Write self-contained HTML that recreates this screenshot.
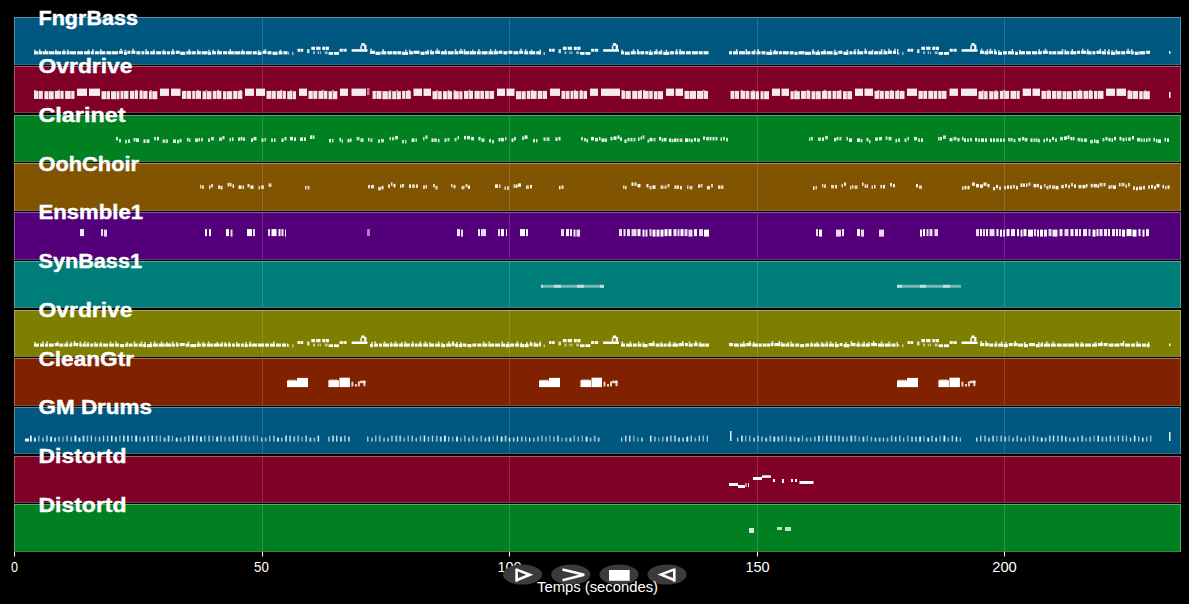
<!DOCTYPE html>
<html><head><meta charset="utf-8"><style>
html,body{margin:0;padding:0;background:#000;width:1189px;height:604px;overflow:hidden;}
svg{display:block;}
</style></head><body><svg width="1189" height="604" viewBox="0 0 1189 604"><rect x="0" y="0" width="1189" height="604" fill="#000"/><rect x="14" y="17" width="1167" height="48" fill="#005880"/><rect x="14" y="17" width="1167" height="1" fill="#5791ab"/><rect x="14" y="64" width="1167" height="1" fill="#3a6a80"/><rect x="14" y="17" width="1" height="48" fill="#5791ab"/><rect x="1180" y="17" width="1" height="48" fill="#5791ab"/><rect x="262" y="18" width="1" height="46" fill="#fff" fill-opacity="0.16"/><rect x="509" y="18" width="1" height="46" fill="#fff" fill-opacity="0.16"/><rect x="757" y="18" width="1" height="46" fill="#fff" fill-opacity="0.16"/><rect x="1004" y="18" width="1" height="46" fill="#fff" fill-opacity="0.16"/><rect x="14" y="66" width="1167" height="47" fill="#800028"/><rect x="14" y="66" width="1167" height="1" fill="#ab5771"/><rect x="14" y="112" width="1167" height="1" fill="#803a50"/><rect x="14" y="66" width="1" height="47" fill="#ab5771"/><rect x="1180" y="66" width="1" height="47" fill="#ab5771"/><rect x="262" y="67" width="1" height="45" fill="#fff" fill-opacity="0.16"/><rect x="509" y="67" width="1" height="45" fill="#fff" fill-opacity="0.16"/><rect x="757" y="67" width="1" height="45" fill="#fff" fill-opacity="0.16"/><rect x="1004" y="67" width="1" height="45" fill="#fff" fill-opacity="0.16"/><rect x="14" y="115" width="1167" height="47" fill="#008020"/><rect x="14" y="115" width="1167" height="1" fill="#57ab6c"/><rect x="14" y="161" width="1167" height="1" fill="#3a804b"/><rect x="14" y="115" width="1" height="47" fill="#57ab6c"/><rect x="1180" y="115" width="1" height="47" fill="#57ab6c"/><rect x="262" y="116" width="1" height="45" fill="#fff" fill-opacity="0.16"/><rect x="509" y="116" width="1" height="45" fill="#fff" fill-opacity="0.16"/><rect x="757" y="116" width="1" height="45" fill="#fff" fill-opacity="0.16"/><rect x="1004" y="116" width="1" height="45" fill="#fff" fill-opacity="0.16"/><rect x="14" y="163" width="1167" height="48" fill="#805400"/><rect x="14" y="163" width="1167" height="1" fill="#ab8e57"/><rect x="14" y="210" width="1167" height="1" fill="#80683a"/><rect x="14" y="163" width="1" height="48" fill="#ab8e57"/><rect x="1180" y="163" width="1" height="48" fill="#ab8e57"/><rect x="262" y="164" width="1" height="46" fill="#fff" fill-opacity="0.16"/><rect x="509" y="164" width="1" height="46" fill="#fff" fill-opacity="0.16"/><rect x="757" y="164" width="1" height="46" fill="#fff" fill-opacity="0.16"/><rect x="1004" y="164" width="1" height="46" fill="#fff" fill-opacity="0.16"/><rect x="14" y="212" width="1167" height="48" fill="#54007a"/><rect x="14" y="212" width="1167" height="1" fill="#8e57a7"/><rect x="14" y="259" width="1167" height="1" fill="#683a7d"/><rect x="14" y="212" width="1" height="48" fill="#8e57a7"/><rect x="1180" y="212" width="1" height="48" fill="#8e57a7"/><rect x="262" y="213" width="1" height="46" fill="#fff" fill-opacity="0.16"/><rect x="509" y="213" width="1" height="46" fill="#fff" fill-opacity="0.16"/><rect x="757" y="213" width="1" height="46" fill="#fff" fill-opacity="0.16"/><rect x="1004" y="213" width="1" height="46" fill="#fff" fill-opacity="0.16"/><rect x="14" y="261" width="1167" height="47" fill="#007e7a"/><rect x="14" y="261" width="1167" height="1" fill="#57aaa7"/><rect x="14" y="307" width="1167" height="1" fill="#3a7f7d"/><rect x="14" y="261" width="1" height="47" fill="#57aaa7"/><rect x="1180" y="261" width="1" height="47" fill="#57aaa7"/><rect x="262" y="262" width="1" height="45" fill="#fff" fill-opacity="0.16"/><rect x="509" y="262" width="1" height="45" fill="#fff" fill-opacity="0.16"/><rect x="757" y="262" width="1" height="45" fill="#fff" fill-opacity="0.16"/><rect x="1004" y="262" width="1" height="45" fill="#fff" fill-opacity="0.16"/><rect x="14" y="310" width="1167" height="47" fill="#7e7e00"/><rect x="14" y="310" width="1167" height="1" fill="#aaaa57"/><rect x="14" y="356" width="1167" height="1" fill="#7f7f3a"/><rect x="14" y="310" width="1" height="47" fill="#aaaa57"/><rect x="1180" y="310" width="1" height="47" fill="#aaaa57"/><rect x="262" y="311" width="1" height="45" fill="#fff" fill-opacity="0.16"/><rect x="509" y="311" width="1" height="45" fill="#fff" fill-opacity="0.16"/><rect x="757" y="311" width="1" height="45" fill="#fff" fill-opacity="0.16"/><rect x="1004" y="311" width="1" height="45" fill="#fff" fill-opacity="0.16"/><rect x="14" y="358" width="1167" height="48" fill="#802200"/><rect x="14" y="358" width="1167" height="1" fill="#ab6d57"/><rect x="14" y="405" width="1167" height="1" fill="#804c3a"/><rect x="14" y="358" width="1" height="48" fill="#ab6d57"/><rect x="1180" y="358" width="1" height="48" fill="#ab6d57"/><rect x="262" y="359" width="1" height="46" fill="#fff" fill-opacity="0.16"/><rect x="509" y="359" width="1" height="46" fill="#fff" fill-opacity="0.16"/><rect x="757" y="359" width="1" height="46" fill="#fff" fill-opacity="0.16"/><rect x="1004" y="359" width="1" height="46" fill="#fff" fill-opacity="0.16"/><rect x="14" y="407" width="1167" height="47" fill="#005880"/><rect x="14" y="407" width="1167" height="1" fill="#5791ab"/><rect x="14" y="453" width="1167" height="1" fill="#3a6a80"/><rect x="14" y="407" width="1" height="47" fill="#5791ab"/><rect x="1180" y="407" width="1" height="47" fill="#5791ab"/><rect x="262" y="408" width="1" height="45" fill="#fff" fill-opacity="0.16"/><rect x="509" y="408" width="1" height="45" fill="#fff" fill-opacity="0.16"/><rect x="757" y="408" width="1" height="45" fill="#fff" fill-opacity="0.16"/><rect x="1004" y="408" width="1" height="45" fill="#fff" fill-opacity="0.16"/><rect x="14" y="456" width="1167" height="47" fill="#800028"/><rect x="14" y="456" width="1167" height="1" fill="#ab5771"/><rect x="14" y="502" width="1167" height="1" fill="#803a50"/><rect x="14" y="456" width="1" height="47" fill="#ab5771"/><rect x="1180" y="456" width="1" height="47" fill="#ab5771"/><rect x="262" y="457" width="1" height="45" fill="#fff" fill-opacity="0.16"/><rect x="509" y="457" width="1" height="45" fill="#fff" fill-opacity="0.16"/><rect x="757" y="457" width="1" height="45" fill="#fff" fill-opacity="0.16"/><rect x="1004" y="457" width="1" height="45" fill="#fff" fill-opacity="0.16"/><rect x="14" y="504" width="1167" height="48" fill="#008020"/><rect x="14" y="504" width="1167" height="1" fill="#57ab6c"/><rect x="14" y="551" width="1167" height="1" fill="#3a804b"/><rect x="14" y="504" width="1" height="48" fill="#57ab6c"/><rect x="1180" y="504" width="1" height="48" fill="#57ab6c"/><rect x="262" y="505" width="1" height="46" fill="#fff" fill-opacity="0.16"/><rect x="509" y="505" width="1" height="46" fill="#fff" fill-opacity="0.16"/><rect x="757" y="505" width="1" height="46" fill="#fff" fill-opacity="0.16"/><rect x="1004" y="505" width="1" height="46" fill="#fff" fill-opacity="0.16"/><g fill="#fff"><rect x="34.0" y="51.2" width="4.0" height="3.2" fill-opacity="0.95"/><rect x="34.2" y="49.7" width="1.5" height="1.5" fill-opacity="0.85"/><rect x="38.5" y="51.2" width="4.0" height="3.2" fill-opacity="0.95"/><rect x="39.0" y="49.2" width="1.5" height="2.0" fill-opacity="0.85"/><rect x="43.0" y="51.2" width="5.0" height="3.2" fill-opacity="0.95"/><rect x="44.9" y="49.7" width="1.5" height="1.5" fill-opacity="0.85"/><rect x="48.5" y="51.2" width="6.0" height="3.2" fill-opacity="0.95"/><rect x="55.0" y="51.2" width="6.0" height="3.2" fill-opacity="0.95"/><rect x="55.2" y="49.7" width="1.5" height="1.5" fill-opacity="0.85"/><rect x="61.8" y="51.2" width="4.0" height="3.2" fill-opacity="0.95"/><rect x="63.2" y="49.7" width="1.5" height="1.5" fill-opacity="0.85"/><rect x="66.6" y="51.2" width="3.0" height="3.2" fill-opacity="0.95"/><rect x="67.2" y="49.7" width="1.5" height="1.5" fill-opacity="0.85"/><rect x="70.1" y="51.2" width="6.0" height="3.2" fill-opacity="0.95"/><rect x="77.1" y="51.2" width="6.0" height="3.2" fill-opacity="0.95"/><rect x="84.1" y="51.2" width="6.0" height="3.2" fill-opacity="0.95"/><rect x="87.7" y="49.7" width="1.5" height="1.5" fill-opacity="0.85"/><rect x="90.9" y="51.2" width="3.0" height="3.2" fill-opacity="0.95"/><rect x="92.2" y="49.2" width="1.5" height="2.0" fill-opacity="0.85"/><rect x="94.9" y="51.2" width="4.0" height="3.2" fill-opacity="0.95"/><rect x="99.4" y="51.2" width="6.0" height="3.2" fill-opacity="0.95"/><rect x="100.1" y="49.2" width="1.5" height="2.0" fill-opacity="0.85"/><rect x="106.4" y="51.2" width="5.0" height="3.2" fill-opacity="0.95"/><rect x="111.9" y="51.2" width="6.0" height="3.2" fill-opacity="0.95"/><rect x="118.9" y="50.7" width="4.0" height="3.2" fill-opacity="0.95"/><rect x="120.3" y="48.7" width="1.5" height="2.0" fill-opacity="0.85"/><rect x="123.9" y="51.7" width="3.0" height="3.2" fill-opacity="0.95"/><rect x="124.6" y="49.7" width="1.5" height="2.0" fill-opacity="0.85"/><rect x="127.4" y="50.7" width="3.0" height="3.2" fill-opacity="0.95"/><rect x="131.4" y="50.7" width="4.0" height="3.2" fill-opacity="0.95"/><rect x="132.3" y="48.7" width="1.5" height="2.0" fill-opacity="0.85"/><rect x="136.4" y="51.2" width="4.0" height="3.2" fill-opacity="0.95"/><rect x="141.4" y="51.2" width="3.0" height="3.2" fill-opacity="0.95"/><rect x="145.2" y="51.2" width="4.0" height="3.2" fill-opacity="0.95"/><rect x="145.4" y="49.2" width="1.5" height="2.0" fill-opacity="0.85"/><rect x="150.2" y="51.2" width="5.0" height="3.2" fill-opacity="0.95"/><rect x="153.1" y="49.7" width="1.5" height="1.5" fill-opacity="0.85"/><rect x="156.2" y="51.2" width="5.0" height="3.2" fill-opacity="0.95"/><rect x="162.2" y="51.2" width="4.0" height="3.2" fill-opacity="0.95"/><rect x="162.8" y="49.7" width="1.5" height="1.5" fill-opacity="0.85"/><rect x="167.0" y="51.2" width="3.0" height="3.2" fill-opacity="0.95"/><rect x="170.8" y="51.2" width="4.0" height="3.2" fill-opacity="0.95"/><rect x="172.1" y="49.2" width="1.5" height="2.0" fill-opacity="0.85"/><rect x="175.8" y="50.7" width="4.0" height="3.2" fill-opacity="0.95"/><rect x="180.3" y="51.7" width="5.0" height="3.2" fill-opacity="0.95"/><rect x="186.3" y="51.2" width="5.0" height="3.2" fill-opacity="0.95"/><rect x="188.5" y="49.2" width="1.5" height="2.0" fill-opacity="0.85"/><rect x="191.8" y="51.2" width="4.0" height="3.2" fill-opacity="0.95"/><rect x="196.8" y="51.2" width="4.0" height="3.2" fill-opacity="0.95"/><rect x="197.1" y="49.7" width="1.5" height="1.5" fill-opacity="0.85"/><rect x="201.6" y="51.2" width="6.0" height="3.2" fill-opacity="0.95"/><rect x="208.1" y="51.7" width="3.0" height="3.2" fill-opacity="0.95"/><rect x="208.3" y="49.7" width="1.5" height="2.0" fill-opacity="0.85"/><rect x="212.1" y="51.2" width="4.0" height="3.2" fill-opacity="0.95"/><rect x="212.4" y="49.7" width="1.5" height="1.5" fill-opacity="0.85"/><rect x="217.1" y="51.2" width="5.0" height="3.2" fill-opacity="0.95"/><rect x="217.6" y="49.7" width="1.5" height="1.5" fill-opacity="0.85"/><rect x="223.1" y="51.2" width="4.0" height="3.2" fill-opacity="0.95"/><rect x="227.9" y="51.2" width="6.0" height="3.2" fill-opacity="0.95"/><rect x="229.5" y="49.2" width="1.5" height="2.0" fill-opacity="0.85"/><rect x="234.4" y="51.2" width="6.0" height="3.2" fill-opacity="0.95"/><rect x="240.9" y="51.2" width="4.0" height="3.2" fill-opacity="0.95"/><rect x="241.8" y="49.7" width="1.5" height="1.5" fill-opacity="0.85"/><rect x="245.7" y="51.2" width="6.0" height="3.2" fill-opacity="0.95"/><rect x="252.7" y="51.2" width="4.0" height="3.2" fill-opacity="0.95"/><rect x="257.5" y="51.7" width="4.0" height="3.2" fill-opacity="0.95"/><rect x="258.0" y="50.2" width="1.5" height="1.5" fill-opacity="0.85"/><rect x="262.5" y="50.7" width="4.0" height="3.2" fill-opacity="0.95"/><rect x="264.5" y="49.2" width="1.5" height="1.5" fill-opacity="0.85"/><rect x="267.5" y="51.2" width="4.0" height="3.2" fill-opacity="0.95"/><rect x="272.5" y="51.7" width="5.0" height="3.2" fill-opacity="0.95"/><rect x="278.5" y="51.2" width="4.0" height="3.2" fill-opacity="0.95"/><rect x="279.7" y="49.7" width="1.5" height="1.5" fill-opacity="0.85"/><rect x="283.5" y="51.2" width="4.0" height="3.2" fill-opacity="0.95"/><rect x="370.0" y="50.7" width="5.0" height="3.2" fill-opacity="0.95"/><rect x="370.3" y="48.7" width="1.5" height="2.0" fill-opacity="0.85"/><rect x="375.5" y="51.7" width="5.0" height="3.2" fill-opacity="0.95"/><rect x="381.3" y="51.2" width="5.0" height="3.2" fill-opacity="0.95"/><rect x="382.5" y="49.2" width="1.5" height="2.0" fill-opacity="0.85"/><rect x="387.3" y="51.2" width="5.0" height="3.2" fill-opacity="0.95"/><rect x="392.8" y="51.2" width="4.0" height="3.2" fill-opacity="0.95"/><rect x="397.3" y="51.2" width="4.0" height="3.2" fill-opacity="0.95"/><rect x="402.1" y="51.7" width="6.0" height="3.2" fill-opacity="0.95"/><rect x="405.1" y="49.7" width="1.5" height="2.0" fill-opacity="0.85"/><rect x="409.1" y="51.2" width="4.0" height="3.2" fill-opacity="0.95"/><rect x="409.1" y="49.7" width="1.5" height="1.5" fill-opacity="0.85"/><rect x="413.6" y="50.7" width="6.0" height="3.2" fill-opacity="0.95"/><rect x="420.6" y="51.7" width="4.0" height="3.2" fill-opacity="0.95"/><rect x="425.1" y="51.2" width="4.0" height="3.2" fill-opacity="0.95"/><rect x="427.0" y="49.7" width="1.5" height="1.5" fill-opacity="0.85"/><rect x="430.1" y="51.2" width="4.0" height="3.2" fill-opacity="0.95"/><rect x="430.3" y="49.7" width="1.5" height="1.5" fill-opacity="0.85"/><rect x="435.1" y="50.7" width="5.0" height="3.2" fill-opacity="0.95"/><rect x="436.6" y="48.7" width="1.5" height="2.0" fill-opacity="0.85"/><rect x="440.9" y="51.2" width="6.0" height="3.2" fill-opacity="0.95"/><rect x="444.8" y="49.7" width="1.5" height="1.5" fill-opacity="0.85"/><rect x="447.7" y="51.2" width="6.0" height="3.2" fill-opacity="0.95"/><rect x="454.5" y="51.2" width="4.0" height="3.2" fill-opacity="0.95"/><rect x="454.8" y="49.2" width="1.5" height="2.0" fill-opacity="0.85"/><rect x="459.0" y="50.7" width="4.0" height="3.2" fill-opacity="0.95"/><rect x="460.2" y="48.7" width="1.5" height="2.0" fill-opacity="0.85"/><rect x="463.5" y="51.2" width="6.0" height="3.2" fill-opacity="0.95"/><rect x="463.7" y="49.2" width="1.5" height="2.0" fill-opacity="0.85"/><rect x="470.0" y="51.2" width="6.0" height="3.2" fill-opacity="0.95"/><rect x="472.0" y="49.7" width="1.5" height="1.5" fill-opacity="0.85"/><rect x="476.8" y="51.2" width="4.0" height="3.2" fill-opacity="0.95"/><rect x="478.1" y="49.2" width="1.5" height="2.0" fill-opacity="0.85"/><rect x="481.6" y="51.2" width="6.0" height="3.2" fill-opacity="0.95"/><rect x="488.4" y="51.2" width="5.0" height="3.2" fill-opacity="0.95"/><rect x="489.9" y="49.2" width="1.5" height="2.0" fill-opacity="0.85"/><rect x="493.9" y="51.2" width="4.0" height="3.2" fill-opacity="0.95"/><rect x="494.7" y="49.2" width="1.5" height="2.0" fill-opacity="0.85"/><rect x="498.4" y="50.7" width="4.0" height="3.2" fill-opacity="0.95"/><rect x="503.4" y="51.2" width="4.0" height="3.2" fill-opacity="0.95"/><rect x="508.4" y="50.7" width="4.0" height="3.2" fill-opacity="0.95"/><rect x="513.4" y="51.2" width="5.0" height="3.2" fill-opacity="0.95"/><rect x="519.2" y="50.7" width="4.0" height="3.2" fill-opacity="0.95"/><rect x="520.2" y="48.7" width="1.5" height="2.0" fill-opacity="0.85"/><rect x="524.2" y="51.2" width="4.0" height="3.2" fill-opacity="0.95"/><rect x="525.1" y="49.2" width="1.5" height="2.0" fill-opacity="0.85"/><rect x="529.2" y="51.2" width="6.0" height="3.2" fill-opacity="0.95"/><rect x="530.9" y="49.7" width="1.5" height="1.5" fill-opacity="0.85"/><rect x="536.2" y="51.2" width="4.8" height="3.2" fill-opacity="0.95"/><rect x="539.4" y="49.7" width="1.5" height="1.5" fill-opacity="0.85"/><rect x="621.0" y="51.2" width="3.0" height="3.2" fill-opacity="0.95"/><rect x="621.4" y="49.7" width="1.5" height="1.5" fill-opacity="0.85"/><rect x="624.8" y="51.7" width="5.0" height="3.2" fill-opacity="0.95"/><rect x="630.8" y="51.2" width="5.0" height="3.2" fill-opacity="0.95"/><rect x="632.8" y="49.2" width="1.5" height="2.0" fill-opacity="0.85"/><rect x="636.8" y="51.2" width="3.0" height="3.2" fill-opacity="0.95"/><rect x="637.1" y="49.2" width="1.5" height="2.0" fill-opacity="0.85"/><rect x="640.3" y="51.2" width="4.0" height="3.2" fill-opacity="0.95"/><rect x="645.3" y="51.2" width="3.0" height="3.2" fill-opacity="0.95"/><rect x="648.8" y="51.7" width="4.0" height="3.2" fill-opacity="0.95"/><rect x="649.6" y="50.2" width="1.5" height="1.5" fill-opacity="0.85"/><rect x="653.8" y="51.2" width="4.0" height="3.2" fill-opacity="0.95"/><rect x="655.6" y="49.2" width="1.5" height="2.0" fill-opacity="0.85"/><rect x="658.3" y="51.2" width="4.0" height="3.2" fill-opacity="0.95"/><rect x="660.6" y="49.7" width="1.5" height="1.5" fill-opacity="0.85"/><rect x="663.3" y="51.7" width="6.0" height="3.2" fill-opacity="0.95"/><rect x="665.6" y="49.7" width="1.5" height="2.0" fill-opacity="0.85"/><rect x="670.1" y="51.2" width="4.0" height="3.2" fill-opacity="0.95"/><rect x="675.1" y="51.2" width="3.0" height="3.2" fill-opacity="0.95"/><rect x="675.9" y="49.2" width="1.5" height="2.0" fill-opacity="0.85"/><rect x="678.9" y="51.2" width="6.0" height="3.2" fill-opacity="0.95"/><rect x="679.4" y="49.2" width="1.5" height="2.0" fill-opacity="0.85"/><rect x="685.9" y="51.2" width="5.0" height="3.2" fill-opacity="0.95"/><rect x="691.9" y="51.2" width="6.0" height="3.2" fill-opacity="0.95"/><rect x="698.7" y="51.2" width="4.0" height="3.2" fill-opacity="0.95"/><rect x="703.5" y="51.2" width="5.0" height="3.2" fill-opacity="0.95"/><rect x="729.0" y="51.2" width="3.0" height="3.2" fill-opacity="0.95"/><rect x="733.0" y="51.2" width="5.0" height="3.2" fill-opacity="0.95"/><rect x="735.9" y="49.2" width="1.5" height="2.0" fill-opacity="0.85"/><rect x="739.0" y="51.2" width="6.0" height="3.2" fill-opacity="0.95"/><rect x="745.5" y="51.2" width="5.0" height="3.2" fill-opacity="0.95"/><rect x="745.5" y="49.2" width="1.5" height="2.0" fill-opacity="0.85"/><rect x="751.5" y="51.2" width="4.0" height="3.2" fill-opacity="0.95"/><rect x="753.9" y="49.7" width="1.5" height="1.5" fill-opacity="0.85"/><rect x="756.5" y="51.2" width="4.0" height="3.2" fill-opacity="0.95"/><rect x="757.5" y="49.2" width="1.5" height="2.0" fill-opacity="0.85"/><rect x="761.5" y="51.2" width="4.0" height="3.2" fill-opacity="0.95"/><rect x="766.3" y="51.7" width="6.0" height="3.2" fill-opacity="0.95"/><rect x="770.0" y="49.7" width="1.5" height="2.0" fill-opacity="0.85"/><rect x="773.1" y="51.2" width="5.0" height="3.2" fill-opacity="0.95"/><rect x="774.1" y="49.7" width="1.5" height="1.5" fill-opacity="0.85"/><rect x="778.9" y="51.2" width="3.0" height="3.2" fill-opacity="0.95"/><rect x="782.7" y="51.2" width="6.0" height="3.2" fill-opacity="0.95"/><rect x="789.7" y="51.2" width="4.0" height="3.2" fill-opacity="0.95"/><rect x="794.5" y="51.7" width="3.0" height="3.2" fill-opacity="0.95"/><rect x="798.5" y="51.2" width="6.0" height="3.2" fill-opacity="0.95"/><rect x="805.0" y="51.7" width="6.0" height="3.2" fill-opacity="0.95"/><rect x="811.8" y="51.2" width="3.0" height="3.2" fill-opacity="0.95"/><rect x="812.3" y="49.2" width="1.5" height="2.0" fill-opacity="0.85"/><rect x="815.3" y="51.7" width="5.0" height="3.2" fill-opacity="0.95"/><rect x="817.5" y="50.2" width="1.5" height="1.5" fill-opacity="0.85"/><rect x="821.1" y="51.2" width="5.0" height="3.2" fill-opacity="0.95"/><rect x="823.7" y="49.7" width="1.5" height="1.5" fill-opacity="0.85"/><rect x="826.6" y="51.2" width="6.0" height="3.2" fill-opacity="0.95"/><rect x="833.6" y="51.7" width="4.0" height="3.2" fill-opacity="0.95"/><rect x="834.2" y="49.7" width="1.5" height="2.0" fill-opacity="0.85"/><rect x="838.4" y="50.7" width="4.0" height="3.2" fill-opacity="0.95"/><rect x="843.4" y="51.7" width="5.0" height="3.2" fill-opacity="0.95"/><rect x="846.6" y="49.7" width="1.5" height="2.0" fill-opacity="0.85"/><rect x="849.4" y="51.2" width="3.0" height="3.2" fill-opacity="0.95"/><rect x="853.2" y="51.2" width="3.0" height="3.2" fill-opacity="0.95"/><rect x="854.2" y="49.2" width="1.5" height="2.0" fill-opacity="0.85"/><rect x="857.2" y="51.2" width="6.0" height="3.2" fill-opacity="0.95"/><rect x="857.5" y="49.2" width="1.5" height="2.0" fill-opacity="0.85"/><rect x="864.2" y="50.7" width="3.0" height="3.2" fill-opacity="0.95"/><rect x="864.6" y="48.7" width="1.5" height="2.0" fill-opacity="0.85"/><rect x="868.2" y="51.2" width="5.0" height="3.2" fill-opacity="0.95"/><rect x="871.7" y="49.7" width="1.5" height="1.5" fill-opacity="0.85"/><rect x="874.0" y="51.2" width="4.0" height="3.2" fill-opacity="0.95"/><rect x="878.5" y="51.2" width="4.0" height="3.2" fill-opacity="0.95"/><rect x="880.9" y="49.2" width="1.5" height="2.0" fill-opacity="0.85"/><rect x="883.5" y="51.2" width="4.0" height="3.2" fill-opacity="0.95"/><rect x="883.7" y="49.7" width="1.5" height="1.5" fill-opacity="0.85"/><rect x="888.0" y="50.7" width="4.0" height="3.2" fill-opacity="0.95"/><rect x="888.3" y="48.7" width="1.5" height="2.0" fill-opacity="0.85"/><rect x="893.0" y="50.7" width="3.0" height="3.2" fill-opacity="0.95"/><rect x="894.3" y="48.7" width="1.5" height="2.0" fill-opacity="0.85"/><rect x="897.0" y="51.2" width="1.0" height="3.2" fill-opacity="0.95"/><rect x="897.0" y="49.2" width="1.5" height="2.0" fill-opacity="0.85"/><rect x="980.0" y="50.7" width="4.0" height="3.2" fill-opacity="0.95"/><rect x="980.9" y="48.7" width="1.5" height="2.0" fill-opacity="0.85"/><rect x="984.5" y="51.2" width="4.0" height="3.2" fill-opacity="0.95"/><rect x="986.6" y="49.2" width="1.5" height="2.0" fill-opacity="0.85"/><rect x="989.0" y="50.7" width="4.0" height="3.2" fill-opacity="0.95"/><rect x="989.7" y="48.7" width="1.5" height="2.0" fill-opacity="0.85"/><rect x="994.0" y="51.2" width="3.0" height="3.2" fill-opacity="0.95"/><rect x="994.1" y="49.2" width="1.5" height="2.0" fill-opacity="0.85"/><rect x="998.0" y="51.7" width="4.0" height="3.2" fill-opacity="0.95"/><rect x="998.1" y="50.2" width="1.5" height="1.5" fill-opacity="0.85"/><rect x="1003.0" y="51.2" width="4.0" height="3.2" fill-opacity="0.95"/><rect x="1008.0" y="51.2" width="6.0" height="3.2" fill-opacity="0.95"/><rect x="1011.5" y="49.2" width="1.5" height="2.0" fill-opacity="0.85"/><rect x="1015.0" y="51.7" width="3.0" height="3.2" fill-opacity="0.95"/><rect x="1019.0" y="51.2" width="6.0" height="3.2" fill-opacity="0.95"/><rect x="1019.2" y="49.7" width="1.5" height="1.5" fill-opacity="0.85"/><rect x="1026.0" y="51.2" width="5.0" height="3.2" fill-opacity="0.95"/><rect x="1032.0" y="51.2" width="5.0" height="3.2" fill-opacity="0.95"/><rect x="1037.8" y="51.2" width="4.0" height="3.2" fill-opacity="0.95"/><rect x="1038.5" y="49.2" width="1.5" height="2.0" fill-opacity="0.85"/><rect x="1042.8" y="50.7" width="5.0" height="3.2" fill-opacity="0.95"/><rect x="1044.8" y="48.7" width="1.5" height="2.0" fill-opacity="0.85"/><rect x="1048.8" y="51.2" width="3.0" height="3.2" fill-opacity="0.95"/><rect x="1052.3" y="51.2" width="4.0" height="3.2" fill-opacity="0.95"/><rect x="1057.3" y="51.2" width="6.0" height="3.2" fill-opacity="0.95"/><rect x="1061.8" y="49.2" width="1.5" height="2.0" fill-opacity="0.85"/><rect x="1064.3" y="51.2" width="5.0" height="3.2" fill-opacity="0.95"/><rect x="1064.6" y="49.7" width="1.5" height="1.5" fill-opacity="0.85"/><rect x="1070.3" y="51.2" width="6.0" height="3.2" fill-opacity="0.95"/><rect x="1071.5" y="49.2" width="1.5" height="2.0" fill-opacity="0.85"/><rect x="1077.1" y="50.7" width="3.0" height="3.2" fill-opacity="0.95"/><rect x="1081.1" y="50.7" width="5.0" height="3.2" fill-opacity="0.95"/><rect x="1082.0" y="48.7" width="1.5" height="2.0" fill-opacity="0.85"/><rect x="1086.6" y="51.2" width="5.0" height="3.2" fill-opacity="0.95"/><rect x="1087.0" y="49.2" width="1.5" height="2.0" fill-opacity="0.85"/><rect x="1092.4" y="51.2" width="3.0" height="3.2" fill-opacity="0.95"/><rect x="1096.4" y="50.7" width="5.0" height="3.2" fill-opacity="0.95"/><rect x="1099.4" y="48.7" width="1.5" height="2.0" fill-opacity="0.85"/><rect x="1101.9" y="51.2" width="4.0" height="3.2" fill-opacity="0.95"/><rect x="1104.3" y="49.2" width="1.5" height="2.0" fill-opacity="0.85"/><rect x="1106.9" y="51.2" width="3.0" height="3.2" fill-opacity="0.95"/><rect x="1108.2" y="49.2" width="1.5" height="2.0" fill-opacity="0.85"/><rect x="1110.9" y="51.7" width="4.0" height="3.2" fill-opacity="0.95"/><rect x="1111.3" y="50.2" width="1.5" height="1.5" fill-opacity="0.85"/><rect x="1115.4" y="51.2" width="5.0" height="3.2" fill-opacity="0.95"/><rect x="1115.4" y="49.7" width="1.5" height="1.5" fill-opacity="0.85"/><rect x="1121.2" y="51.2" width="4.0" height="3.2" fill-opacity="0.95"/><rect x="1126.2" y="50.7" width="4.0" height="3.2" fill-opacity="0.95"/><rect x="1127.3" y="48.7" width="1.5" height="2.0" fill-opacity="0.85"/><rect x="1130.7" y="51.2" width="3.0" height="3.2" fill-opacity="0.95"/><rect x="1131.0" y="49.2" width="1.5" height="2.0" fill-opacity="0.85"/><rect x="1134.7" y="51.7" width="4.0" height="3.2" fill-opacity="0.95"/><rect x="1139.2" y="51.2" width="6.0" height="3.2" fill-opacity="0.95"/><rect x="1146.2" y="50.7" width="3.8" height="3.2" fill-opacity="0.95"/><rect x="288.0" y="51.7" width="1.2" height="3.0" fill-opacity="0.60"/><rect x="292.0" y="52.0" width="1.5" height="3.0" fill-opacity="0.60"/><rect x="297.5" y="48.8" width="2.6" height="2.9"/><rect x="300.6" y="48.8" width="2.6" height="2.9"/><rect x="307.0" y="49.2" width="2.5" height="4.0" fill-opacity="0.80"/><rect x="311.3" y="46.7" width="3.8" height="3.2" fill-opacity="0.95"/><rect x="316.2" y="46.7" width="4.3" height="3.2" fill-opacity="0.95"/><rect x="322.3" y="46.7" width="3.0" height="3.3" fill-opacity="0.95"/><rect x="325.8" y="46.7" width="3.2" height="3.3" fill-opacity="0.95"/><rect x="313.0" y="51.3" width="2.0" height="2.8" fill-opacity="0.60"/><rect x="317.7" y="51.3" width="1.3" height="2.8" fill-opacity="0.60"/><rect x="319.8" y="51.3" width="1.2" height="2.8" fill-opacity="0.60"/><rect x="324.7" y="51.3" width="2.9" height="2.8" fill-opacity="0.60"/><rect x="328.6" y="52.0" width="4.5" height="2.8"/><rect x="334.0" y="52.0" width="4.9" height="2.8"/><rect x="339.6" y="48.8" width="3.2" height="2.9" fill-opacity="0.95"/><rect x="343.4" y="48.8" width="3.3" height="2.9" fill-opacity="0.95"/><rect x="351.6" y="49.2" width="15.9" height="2.5"/><rect x="361.3" y="43.2" width="3.4" height="2.6"/><rect x="364.2" y="44.7" width="2.2" height="4.5"/><rect x="360.3" y="45.6" width="1.6" height="3.6" fill-opacity="0.90"/><rect x="539.5" y="51.7" width="1.2" height="3.0" fill-opacity="0.60"/><rect x="543.5" y="52.0" width="1.5" height="3.0" fill-opacity="0.60"/><rect x="549.0" y="48.8" width="2.6" height="2.9"/><rect x="552.1" y="48.8" width="2.6" height="2.9"/><rect x="558.5" y="49.2" width="2.5" height="4.0" fill-opacity="0.80"/><rect x="562.8" y="46.7" width="3.8" height="3.2" fill-opacity="0.95"/><rect x="567.7" y="46.7" width="4.3" height="3.2" fill-opacity="0.95"/><rect x="573.8" y="46.7" width="3.0" height="3.3" fill-opacity="0.95"/><rect x="577.3" y="46.7" width="3.2" height="3.3" fill-opacity="0.95"/><rect x="564.5" y="51.3" width="2.0" height="2.8" fill-opacity="0.60"/><rect x="569.2" y="51.3" width="1.3" height="2.8" fill-opacity="0.60"/><rect x="571.3" y="51.3" width="1.2" height="2.8" fill-opacity="0.60"/><rect x="576.2" y="51.3" width="2.9" height="2.8" fill-opacity="0.60"/><rect x="580.1" y="52.0" width="4.5" height="2.8"/><rect x="585.5" y="52.0" width="4.9" height="2.8"/><rect x="591.1" y="48.8" width="3.2" height="2.9" fill-opacity="0.95"/><rect x="594.9" y="48.8" width="3.3" height="2.9" fill-opacity="0.95"/><rect x="603.1" y="49.2" width="15.9" height="2.5"/><rect x="612.8" y="43.2" width="3.4" height="2.6"/><rect x="615.7" y="44.7" width="2.2" height="4.5"/><rect x="611.8" y="45.6" width="1.6" height="3.6" fill-opacity="0.90"/><rect x="898.0" y="51.7" width="1.2" height="3.0" fill-opacity="0.60"/><rect x="902.0" y="52.0" width="1.5" height="3.0" fill-opacity="0.60"/><rect x="907.5" y="48.8" width="2.6" height="2.9"/><rect x="910.6" y="48.8" width="2.6" height="2.9"/><rect x="917.0" y="49.2" width="2.5" height="4.0" fill-opacity="0.80"/><rect x="921.3" y="46.7" width="3.8" height="3.2" fill-opacity="0.95"/><rect x="926.2" y="46.7" width="4.3" height="3.2" fill-opacity="0.95"/><rect x="932.3" y="46.7" width="3.0" height="3.3" fill-opacity="0.95"/><rect x="935.8" y="46.7" width="3.2" height="3.3" fill-opacity="0.95"/><rect x="923.0" y="51.3" width="2.0" height="2.8" fill-opacity="0.60"/><rect x="927.7" y="51.3" width="1.3" height="2.8" fill-opacity="0.60"/><rect x="929.8" y="51.3" width="1.2" height="2.8" fill-opacity="0.60"/><rect x="934.7" y="51.3" width="2.9" height="2.8" fill-opacity="0.60"/><rect x="938.6" y="52.0" width="4.5" height="2.8"/><rect x="944.0" y="52.0" width="4.9" height="2.8"/><rect x="949.6" y="48.8" width="3.2" height="2.9" fill-opacity="0.95"/><rect x="953.4" y="48.8" width="3.3" height="2.9" fill-opacity="0.95"/><rect x="961.6" y="49.2" width="15.9" height="2.5"/><rect x="971.3" y="43.2" width="3.4" height="2.6"/><rect x="974.2" y="44.7" width="2.2" height="4.5"/><rect x="970.3" y="45.6" width="1.6" height="3.6" fill-opacity="0.90"/><rect x="1169.0" y="51.2" width="1.5" height="2.5"/><rect x="34.0" y="343.5" width="5.0" height="3.2" fill-opacity="0.95"/><rect x="34.1" y="342.0" width="1.5" height="1.5" fill-opacity="0.85"/><rect x="40.0" y="343.5" width="4.0" height="3.2" fill-opacity="0.95"/><rect x="42.2" y="341.5" width="1.5" height="2.0" fill-opacity="0.85"/><rect x="45.0" y="343.5" width="3.0" height="3.2" fill-opacity="0.95"/><rect x="46.4" y="341.5" width="1.5" height="2.0" fill-opacity="0.85"/><rect x="48.8" y="343.5" width="5.0" height="3.2" fill-opacity="0.95"/><rect x="54.8" y="343.0" width="4.0" height="3.2" fill-opacity="0.95"/><rect x="56.8" y="341.5" width="1.5" height="1.5" fill-opacity="0.85"/><rect x="59.3" y="343.5" width="4.0" height="3.2" fill-opacity="0.95"/><rect x="64.3" y="343.5" width="4.0" height="3.2" fill-opacity="0.95"/><rect x="66.2" y="341.5" width="1.5" height="2.0" fill-opacity="0.85"/><rect x="69.3" y="343.5" width="3.0" height="3.2" fill-opacity="0.95"/><rect x="70.6" y="342.0" width="1.5" height="1.5" fill-opacity="0.85"/><rect x="73.3" y="343.0" width="5.0" height="3.2" fill-opacity="0.95"/><rect x="73.8" y="341.0" width="1.5" height="2.0" fill-opacity="0.85"/><rect x="79.3" y="343.5" width="3.0" height="3.2" fill-opacity="0.95"/><rect x="79.5" y="341.5" width="1.5" height="2.0" fill-opacity="0.85"/><rect x="82.8" y="343.5" width="3.0" height="3.2" fill-opacity="0.95"/><rect x="84.1" y="341.5" width="1.5" height="2.0" fill-opacity="0.85"/><rect x="86.3" y="343.5" width="3.0" height="3.2" fill-opacity="0.95"/><rect x="87.3" y="342.0" width="1.5" height="1.5" fill-opacity="0.85"/><rect x="90.3" y="343.5" width="3.0" height="3.2" fill-opacity="0.95"/><rect x="94.3" y="343.5" width="4.0" height="3.2" fill-opacity="0.95"/><rect x="94.3" y="342.0" width="1.5" height="1.5" fill-opacity="0.85"/><rect x="99.3" y="343.5" width="3.0" height="3.2" fill-opacity="0.95"/><rect x="100.1" y="342.0" width="1.5" height="1.5" fill-opacity="0.85"/><rect x="103.1" y="343.5" width="5.0" height="3.2" fill-opacity="0.95"/><rect x="109.1" y="343.5" width="5.0" height="3.2" fill-opacity="0.95"/><rect x="109.8" y="341.5" width="1.5" height="2.0" fill-opacity="0.85"/><rect x="115.1" y="343.5" width="4.0" height="3.2" fill-opacity="0.95"/><rect x="115.2" y="341.5" width="1.5" height="2.0" fill-opacity="0.85"/><rect x="120.1" y="344.0" width="4.0" height="3.2" fill-opacity="0.95"/><rect x="125.1" y="343.5" width="3.0" height="3.2" fill-opacity="0.95"/><rect x="126.3" y="342.0" width="1.5" height="1.5" fill-opacity="0.85"/><rect x="128.6" y="343.5" width="4.0" height="3.2" fill-opacity="0.95"/><rect x="133.6" y="343.5" width="4.0" height="3.2" fill-opacity="0.95"/><rect x="133.7" y="341.5" width="1.5" height="2.0" fill-opacity="0.85"/><rect x="138.6" y="343.5" width="4.0" height="3.2" fill-opacity="0.95"/><rect x="140.9" y="341.5" width="1.5" height="2.0" fill-opacity="0.85"/><rect x="143.1" y="344.0" width="3.0" height="3.2" fill-opacity="0.95"/><rect x="144.2" y="342.0" width="1.5" height="2.0" fill-opacity="0.85"/><rect x="147.1" y="344.0" width="5.0" height="3.2" fill-opacity="0.95"/><rect x="150.0" y="342.0" width="1.5" height="2.0" fill-opacity="0.85"/><rect x="152.9" y="343.5" width="5.0" height="3.2" fill-opacity="0.95"/><rect x="154.0" y="341.5" width="1.5" height="2.0" fill-opacity="0.85"/><rect x="158.7" y="343.5" width="6.0" height="3.2" fill-opacity="0.95"/><rect x="160.8" y="341.5" width="1.5" height="2.0" fill-opacity="0.85"/><rect x="165.2" y="343.5" width="6.0" height="3.2" fill-opacity="0.95"/><rect x="166.3" y="342.0" width="1.5" height="1.5" fill-opacity="0.85"/><rect x="171.7" y="343.5" width="3.0" height="3.2" fill-opacity="0.95"/><rect x="171.9" y="341.5" width="1.5" height="2.0" fill-opacity="0.85"/><rect x="175.7" y="343.5" width="3.0" height="3.2" fill-opacity="0.95"/><rect x="176.0" y="342.0" width="1.5" height="1.5" fill-opacity="0.85"/><rect x="179.7" y="343.0" width="5.0" height="3.2" fill-opacity="0.95"/><rect x="185.5" y="343.5" width="4.0" height="3.2" fill-opacity="0.95"/><rect x="187.7" y="341.5" width="1.5" height="2.0" fill-opacity="0.85"/><rect x="190.3" y="344.0" width="6.0" height="3.2" fill-opacity="0.95"/><rect x="196.8" y="343.5" width="4.0" height="3.2" fill-opacity="0.95"/><rect x="197.7" y="341.5" width="1.5" height="2.0" fill-opacity="0.85"/><rect x="201.8" y="343.5" width="4.0" height="3.2" fill-opacity="0.95"/><rect x="202.4" y="342.0" width="1.5" height="1.5" fill-opacity="0.85"/><rect x="206.8" y="343.5" width="6.0" height="3.2" fill-opacity="0.95"/><rect x="207.9" y="341.5" width="1.5" height="2.0" fill-opacity="0.85"/><rect x="213.6" y="343.5" width="6.0" height="3.2" fill-opacity="0.95"/><rect x="216.5" y="342.0" width="1.5" height="1.5" fill-opacity="0.85"/><rect x="220.1" y="343.5" width="3.0" height="3.2" fill-opacity="0.95"/><rect x="221.4" y="342.0" width="1.5" height="1.5" fill-opacity="0.85"/><rect x="224.1" y="343.5" width="3.0" height="3.2" fill-opacity="0.95"/><rect x="224.4" y="342.0" width="1.5" height="1.5" fill-opacity="0.85"/><rect x="227.9" y="343.5" width="3.0" height="3.2" fill-opacity="0.95"/><rect x="228.6" y="342.0" width="1.5" height="1.5" fill-opacity="0.85"/><rect x="231.9" y="343.5" width="3.0" height="3.2" fill-opacity="0.95"/><rect x="235.9" y="343.5" width="4.0" height="3.2" fill-opacity="0.95"/><rect x="236.0" y="342.0" width="1.5" height="1.5" fill-opacity="0.85"/><rect x="240.9" y="343.5" width="3.0" height="3.2" fill-opacity="0.95"/><rect x="244.7" y="344.0" width="3.0" height="3.2" fill-opacity="0.95"/><rect x="245.3" y="342.0" width="1.5" height="2.0" fill-opacity="0.85"/><rect x="248.7" y="343.5" width="3.0" height="3.2" fill-opacity="0.95"/><rect x="249.5" y="341.5" width="1.5" height="2.0" fill-opacity="0.85"/><rect x="252.2" y="343.5" width="5.0" height="3.2" fill-opacity="0.95"/><rect x="258.0" y="343.5" width="6.0" height="3.2" fill-opacity="0.95"/><rect x="265.0" y="343.5" width="4.0" height="3.2" fill-opacity="0.95"/><rect x="270.0" y="343.5" width="5.0" height="3.2" fill-opacity="0.95"/><rect x="273.1" y="341.5" width="1.5" height="2.0" fill-opacity="0.85"/><rect x="276.0" y="343.5" width="5.0" height="3.2" fill-opacity="0.95"/><rect x="282.0" y="343.5" width="4.0" height="3.2" fill-opacity="0.95"/><rect x="286.8" y="343.5" width="1.2" height="3.2" fill-opacity="0.95"/><rect x="370.0" y="344.0" width="3.0" height="3.2" fill-opacity="0.95"/><rect x="371.3" y="342.0" width="1.5" height="2.0" fill-opacity="0.85"/><rect x="374.0" y="343.5" width="4.0" height="3.2" fill-opacity="0.95"/><rect x="374.4" y="341.5" width="1.5" height="2.0" fill-opacity="0.85"/><rect x="379.0" y="343.5" width="3.0" height="3.2" fill-opacity="0.95"/><rect x="383.0" y="343.5" width="6.0" height="3.2" fill-opacity="0.95"/><rect x="383.7" y="341.5" width="1.5" height="2.0" fill-opacity="0.85"/><rect x="389.8" y="343.5" width="3.0" height="3.2" fill-opacity="0.95"/><rect x="390.3" y="342.0" width="1.5" height="1.5" fill-opacity="0.85"/><rect x="393.3" y="343.5" width="5.0" height="3.2" fill-opacity="0.95"/><rect x="394.7" y="341.5" width="1.5" height="2.0" fill-opacity="0.85"/><rect x="399.1" y="343.5" width="4.0" height="3.2" fill-opacity="0.95"/><rect x="401.2" y="342.0" width="1.5" height="1.5" fill-opacity="0.85"/><rect x="403.9" y="343.5" width="6.0" height="3.2" fill-opacity="0.95"/><rect x="404.6" y="341.5" width="1.5" height="2.0" fill-opacity="0.85"/><rect x="410.9" y="343.5" width="3.0" height="3.2" fill-opacity="0.95"/><rect x="412.1" y="341.5" width="1.5" height="2.0" fill-opacity="0.85"/><rect x="414.7" y="343.5" width="3.0" height="3.2" fill-opacity="0.95"/><rect x="418.2" y="343.5" width="4.0" height="3.2" fill-opacity="0.95"/><rect x="419.6" y="341.5" width="1.5" height="2.0" fill-opacity="0.85"/><rect x="423.2" y="343.5" width="5.0" height="3.2" fill-opacity="0.95"/><rect x="424.6" y="341.5" width="1.5" height="2.0" fill-opacity="0.85"/><rect x="429.2" y="343.5" width="5.0" height="3.2" fill-opacity="0.95"/><rect x="429.2" y="342.0" width="1.5" height="1.5" fill-opacity="0.85"/><rect x="435.2" y="343.5" width="5.0" height="3.2" fill-opacity="0.95"/><rect x="437.9" y="341.5" width="1.5" height="2.0" fill-opacity="0.85"/><rect x="441.2" y="344.0" width="4.0" height="3.2" fill-opacity="0.95"/><rect x="441.4" y="342.5" width="1.5" height="1.5" fill-opacity="0.85"/><rect x="446.2" y="343.5" width="5.0" height="3.2" fill-opacity="0.95"/><rect x="448.0" y="341.5" width="1.5" height="2.0" fill-opacity="0.85"/><rect x="451.7" y="343.0" width="3.0" height="3.2" fill-opacity="0.95"/><rect x="452.2" y="341.0" width="1.5" height="2.0" fill-opacity="0.85"/><rect x="455.2" y="344.0" width="3.0" height="3.2" fill-opacity="0.95"/><rect x="456.2" y="342.0" width="1.5" height="2.0" fill-opacity="0.85"/><rect x="459.0" y="344.0" width="3.0" height="3.2" fill-opacity="0.95"/><rect x="460.1" y="342.0" width="1.5" height="2.0" fill-opacity="0.85"/><rect x="462.5" y="343.5" width="4.0" height="3.2" fill-opacity="0.95"/><rect x="467.5" y="344.0" width="4.0" height="3.2" fill-opacity="0.95"/><rect x="472.3" y="343.5" width="4.0" height="3.2" fill-opacity="0.95"/><rect x="477.3" y="343.5" width="4.0" height="3.2" fill-opacity="0.95"/><rect x="482.3" y="343.5" width="5.0" height="3.2" fill-opacity="0.95"/><rect x="483.0" y="341.5" width="1.5" height="2.0" fill-opacity="0.85"/><rect x="488.3" y="343.5" width="6.0" height="3.2" fill-opacity="0.95"/><rect x="488.5" y="341.5" width="1.5" height="2.0" fill-opacity="0.85"/><rect x="495.1" y="343.5" width="5.0" height="3.2" fill-opacity="0.95"/><rect x="501.1" y="343.5" width="4.0" height="3.2" fill-opacity="0.95"/><rect x="501.4" y="341.5" width="1.5" height="2.0" fill-opacity="0.85"/><rect x="505.6" y="344.0" width="4.0" height="3.2" fill-opacity="0.95"/><rect x="507.1" y="342.0" width="1.5" height="2.0" fill-opacity="0.85"/><rect x="510.1" y="343.5" width="4.0" height="3.2" fill-opacity="0.95"/><rect x="515.1" y="343.5" width="4.0" height="3.2" fill-opacity="0.95"/><rect x="516.5" y="341.5" width="1.5" height="2.0" fill-opacity="0.85"/><rect x="520.1" y="344.0" width="4.0" height="3.2" fill-opacity="0.95"/><rect x="520.5" y="342.5" width="1.5" height="1.5" fill-opacity="0.85"/><rect x="524.6" y="344.0" width="4.0" height="3.2" fill-opacity="0.95"/><rect x="526.2" y="342.0" width="1.5" height="2.0" fill-opacity="0.85"/><rect x="529.6" y="343.0" width="3.0" height="3.2" fill-opacity="0.95"/><rect x="530.0" y="341.5" width="1.5" height="1.5" fill-opacity="0.85"/><rect x="533.6" y="343.5" width="5.0" height="3.2" fill-opacity="0.95"/><rect x="534.1" y="342.0" width="1.5" height="1.5" fill-opacity="0.85"/><rect x="539.4" y="343.0" width="1.6" height="3.2" fill-opacity="0.95"/><rect x="539.4" y="341.5" width="1.5" height="1.5" fill-opacity="0.85"/><rect x="621.0" y="343.5" width="4.0" height="3.2" fill-opacity="0.95"/><rect x="621.6" y="341.5" width="1.5" height="2.0" fill-opacity="0.85"/><rect x="626.0" y="343.5" width="6.0" height="3.2" fill-opacity="0.95"/><rect x="629.7" y="341.5" width="1.5" height="2.0" fill-opacity="0.85"/><rect x="632.8" y="343.5" width="4.0" height="3.2" fill-opacity="0.95"/><rect x="637.6" y="343.5" width="4.0" height="3.2" fill-opacity="0.95"/><rect x="638.0" y="341.5" width="1.5" height="2.0" fill-opacity="0.85"/><rect x="642.6" y="344.0" width="5.0" height="3.2" fill-opacity="0.95"/><rect x="642.8" y="342.5" width="1.5" height="1.5" fill-opacity="0.85"/><rect x="648.6" y="343.0" width="6.0" height="3.2" fill-opacity="0.95"/><rect x="652.8" y="341.0" width="1.5" height="2.0" fill-opacity="0.85"/><rect x="655.6" y="343.5" width="4.0" height="3.2" fill-opacity="0.95"/><rect x="660.1" y="343.5" width="3.0" height="3.2" fill-opacity="0.95"/><rect x="660.5" y="342.0" width="1.5" height="1.5" fill-opacity="0.85"/><rect x="663.6" y="343.5" width="3.0" height="3.2" fill-opacity="0.95"/><rect x="667.4" y="343.5" width="4.0" height="3.2" fill-opacity="0.95"/><rect x="669.0" y="341.5" width="1.5" height="2.0" fill-opacity="0.85"/><rect x="672.4" y="343.5" width="6.0" height="3.2" fill-opacity="0.95"/><rect x="673.8" y="342.0" width="1.5" height="1.5" fill-opacity="0.85"/><rect x="678.9" y="343.0" width="5.0" height="3.2" fill-opacity="0.95"/><rect x="681.9" y="341.0" width="1.5" height="2.0" fill-opacity="0.85"/><rect x="684.9" y="343.0" width="3.0" height="3.2" fill-opacity="0.95"/><rect x="688.7" y="343.5" width="4.0" height="3.2" fill-opacity="0.95"/><rect x="688.8" y="341.5" width="1.5" height="2.0" fill-opacity="0.85"/><rect x="693.7" y="343.0" width="4.0" height="3.2" fill-opacity="0.95"/><rect x="695.1" y="341.0" width="1.5" height="2.0" fill-opacity="0.85"/><rect x="698.7" y="343.5" width="6.0" height="3.2" fill-opacity="0.95"/><rect x="699.1" y="342.0" width="1.5" height="1.5" fill-opacity="0.85"/><rect x="705.2" y="343.5" width="3.8" height="3.2" fill-opacity="0.95"/><rect x="729.0" y="343.0" width="4.0" height="3.2" fill-opacity="0.95"/><rect x="733.8" y="343.5" width="5.0" height="3.2" fill-opacity="0.95"/><rect x="739.8" y="343.5" width="6.0" height="3.2" fill-opacity="0.95"/><rect x="742.9" y="341.5" width="1.5" height="2.0" fill-opacity="0.85"/><rect x="746.3" y="343.0" width="5.0" height="3.2" fill-opacity="0.95"/><rect x="749.1" y="341.0" width="1.5" height="2.0" fill-opacity="0.85"/><rect x="752.3" y="343.5" width="6.0" height="3.2" fill-opacity="0.95"/><rect x="753.0" y="342.0" width="1.5" height="1.5" fill-opacity="0.85"/><rect x="758.8" y="343.5" width="3.0" height="3.2" fill-opacity="0.95"/><rect x="762.6" y="343.5" width="4.0" height="3.2" fill-opacity="0.95"/><rect x="767.1" y="343.5" width="3.0" height="3.2" fill-opacity="0.95"/><rect x="770.6" y="343.0" width="3.0" height="3.2" fill-opacity="0.95"/><rect x="771.7" y="341.0" width="1.5" height="2.0" fill-opacity="0.85"/><rect x="774.4" y="343.0" width="6.0" height="3.2" fill-opacity="0.95"/><rect x="778.6" y="341.0" width="1.5" height="2.0" fill-opacity="0.85"/><rect x="780.9" y="343.5" width="4.0" height="3.2" fill-opacity="0.95"/><rect x="781.0" y="342.0" width="1.5" height="1.5" fill-opacity="0.85"/><rect x="785.4" y="343.5" width="4.0" height="3.2" fill-opacity="0.95"/><rect x="787.4" y="342.0" width="1.5" height="1.5" fill-opacity="0.85"/><rect x="790.2" y="343.5" width="4.0" height="3.2" fill-opacity="0.95"/><rect x="790.3" y="341.5" width="1.5" height="2.0" fill-opacity="0.85"/><rect x="795.2" y="343.5" width="4.0" height="3.2" fill-opacity="0.95"/><rect x="800.2" y="344.0" width="4.0" height="3.2" fill-opacity="0.95"/><rect x="805.2" y="343.5" width="4.0" height="3.2" fill-opacity="0.95"/><rect x="810.2" y="343.5" width="3.0" height="3.2" fill-opacity="0.95"/><rect x="810.7" y="342.0" width="1.5" height="1.5" fill-opacity="0.85"/><rect x="813.7" y="343.5" width="6.0" height="3.2" fill-opacity="0.95"/><rect x="816.3" y="342.0" width="1.5" height="1.5" fill-opacity="0.85"/><rect x="820.7" y="343.5" width="4.0" height="3.2" fill-opacity="0.95"/><rect x="821.4" y="342.0" width="1.5" height="1.5" fill-opacity="0.85"/><rect x="825.2" y="343.5" width="3.0" height="3.2" fill-opacity="0.95"/><rect x="826.2" y="341.5" width="1.5" height="2.0" fill-opacity="0.85"/><rect x="829.0" y="343.5" width="5.0" height="3.2" fill-opacity="0.95"/><rect x="829.9" y="341.5" width="1.5" height="2.0" fill-opacity="0.85"/><rect x="834.8" y="344.0" width="4.0" height="3.2" fill-opacity="0.95"/><rect x="835.4" y="342.0" width="1.5" height="2.0" fill-opacity="0.85"/><rect x="839.6" y="343.0" width="3.0" height="3.2" fill-opacity="0.95"/><rect x="843.6" y="344.0" width="6.0" height="3.2" fill-opacity="0.95"/><rect x="845.2" y="342.0" width="1.5" height="2.0" fill-opacity="0.85"/><rect x="850.6" y="343.0" width="5.0" height="3.2" fill-opacity="0.95"/><rect x="850.7" y="341.0" width="1.5" height="2.0" fill-opacity="0.85"/><rect x="856.4" y="343.5" width="4.0" height="3.2" fill-opacity="0.95"/><rect x="857.7" y="341.5" width="1.5" height="2.0" fill-opacity="0.85"/><rect x="861.4" y="343.5" width="4.0" height="3.2" fill-opacity="0.95"/><rect x="863.3" y="341.5" width="1.5" height="2.0" fill-opacity="0.85"/><rect x="865.9" y="343.5" width="4.0" height="3.2" fill-opacity="0.95"/><rect x="868.1" y="342.0" width="1.5" height="1.5" fill-opacity="0.85"/><rect x="870.9" y="343.0" width="6.0" height="3.2" fill-opacity="0.95"/><rect x="872.9" y="341.0" width="1.5" height="2.0" fill-opacity="0.85"/><rect x="877.9" y="343.5" width="6.0" height="3.2" fill-opacity="0.95"/><rect x="880.8" y="341.5" width="1.5" height="2.0" fill-opacity="0.85"/><rect x="884.7" y="343.5" width="6.0" height="3.2" fill-opacity="0.95"/><rect x="888.4" y="341.5" width="1.5" height="2.0" fill-opacity="0.85"/><rect x="891.5" y="343.5" width="4.0" height="3.2" fill-opacity="0.95"/><rect x="896.5" y="343.5" width="1.5" height="3.2" fill-opacity="0.95"/><rect x="896.5" y="342.0" width="1.5" height="1.5" fill-opacity="0.85"/><rect x="980.0" y="343.0" width="4.0" height="3.2" fill-opacity="0.95"/><rect x="980.4" y="341.0" width="1.5" height="2.0" fill-opacity="0.85"/><rect x="984.8" y="343.0" width="4.0" height="3.2" fill-opacity="0.95"/><rect x="985.3" y="341.0" width="1.5" height="2.0" fill-opacity="0.85"/><rect x="989.3" y="343.5" width="4.0" height="3.2" fill-opacity="0.95"/><rect x="994.3" y="343.5" width="3.0" height="3.2" fill-opacity="0.95"/><rect x="995.3" y="341.5" width="1.5" height="2.0" fill-opacity="0.85"/><rect x="998.3" y="343.5" width="5.0" height="3.2" fill-opacity="0.95"/><rect x="1000.9" y="341.5" width="1.5" height="2.0" fill-opacity="0.85"/><rect x="1003.8" y="344.0" width="4.0" height="3.2" fill-opacity="0.95"/><rect x="1005.3" y="342.0" width="1.5" height="2.0" fill-opacity="0.85"/><rect x="1008.8" y="343.0" width="4.0" height="3.2" fill-opacity="0.95"/><rect x="1013.6" y="343.0" width="4.0" height="3.2" fill-opacity="0.95"/><rect x="1014.4" y="341.0" width="1.5" height="2.0" fill-opacity="0.85"/><rect x="1018.1" y="343.5" width="5.0" height="3.2" fill-opacity="0.95"/><rect x="1023.9" y="344.0" width="4.0" height="3.2" fill-opacity="0.95"/><rect x="1023.9" y="342.0" width="1.5" height="2.0" fill-opacity="0.85"/><rect x="1028.9" y="343.0" width="6.0" height="3.2" fill-opacity="0.95"/><rect x="1035.7" y="344.0" width="4.0" height="3.2" fill-opacity="0.95"/><rect x="1038.0" y="342.0" width="1.5" height="2.0" fill-opacity="0.85"/><rect x="1040.2" y="343.5" width="3.0" height="3.2" fill-opacity="0.95"/><rect x="1041.3" y="342.0" width="1.5" height="1.5" fill-opacity="0.85"/><rect x="1044.0" y="343.5" width="6.0" height="3.2" fill-opacity="0.95"/><rect x="1046.1" y="341.5" width="1.5" height="2.0" fill-opacity="0.85"/><rect x="1050.8" y="343.5" width="5.0" height="3.2" fill-opacity="0.95"/><rect x="1052.6" y="341.5" width="1.5" height="2.0" fill-opacity="0.85"/><rect x="1056.8" y="343.5" width="5.0" height="3.2" fill-opacity="0.95"/><rect x="1062.6" y="343.5" width="5.0" height="3.2" fill-opacity="0.95"/><rect x="1068.1" y="343.5" width="6.0" height="3.2" fill-opacity="0.95"/><rect x="1075.1" y="343.5" width="4.0" height="3.2" fill-opacity="0.95"/><rect x="1075.3" y="342.0" width="1.5" height="1.5" fill-opacity="0.85"/><rect x="1080.1" y="343.5" width="4.0" height="3.2" fill-opacity="0.95"/><rect x="1080.9" y="342.0" width="1.5" height="1.5" fill-opacity="0.85"/><rect x="1085.1" y="343.5" width="6.0" height="3.2" fill-opacity="0.95"/><rect x="1092.1" y="343.5" width="5.0" height="3.2" fill-opacity="0.95"/><rect x="1094.9" y="342.0" width="1.5" height="1.5" fill-opacity="0.85"/><rect x="1097.9" y="343.0" width="5.0" height="3.2" fill-opacity="0.95"/><rect x="1100.8" y="341.5" width="1.5" height="1.5" fill-opacity="0.85"/><rect x="1103.7" y="343.0" width="4.0" height="3.2" fill-opacity="0.95"/><rect x="1108.7" y="343.5" width="5.0" height="3.2" fill-opacity="0.95"/><rect x="1114.5" y="343.5" width="5.0" height="3.2" fill-opacity="0.95"/><rect x="1120.3" y="343.0" width="4.0" height="3.2" fill-opacity="0.95"/><rect x="1122.8" y="341.0" width="1.5" height="2.0" fill-opacity="0.85"/><rect x="1125.1" y="343.5" width="5.0" height="3.2" fill-opacity="0.95"/><rect x="1131.1" y="343.5" width="4.0" height="3.2" fill-opacity="0.95"/><rect x="1136.1" y="343.5" width="5.0" height="3.2" fill-opacity="0.95"/><rect x="1136.4" y="341.5" width="1.5" height="2.0" fill-opacity="0.85"/><rect x="1142.1" y="343.5" width="4.0" height="3.2" fill-opacity="0.95"/><rect x="1146.6" y="344.0" width="3.0" height="3.2" fill-opacity="0.95"/><rect x="1147.8" y="342.0" width="1.5" height="2.0" fill-opacity="0.85"/><rect x="288.0" y="344.0" width="1.2" height="3.0" fill-opacity="0.60"/><rect x="292.0" y="344.3" width="1.5" height="3.0" fill-opacity="0.60"/><rect x="297.5" y="341.1" width="2.6" height="2.9"/><rect x="300.6" y="341.1" width="2.6" height="2.9"/><rect x="307.0" y="341.5" width="2.5" height="4.0" fill-opacity="0.80"/><rect x="311.3" y="339.0" width="3.8" height="3.2" fill-opacity="0.95"/><rect x="316.2" y="339.0" width="4.3" height="3.2" fill-opacity="0.95"/><rect x="322.3" y="339.0" width="3.0" height="3.3" fill-opacity="0.95"/><rect x="325.8" y="339.0" width="3.2" height="3.3" fill-opacity="0.95"/><rect x="313.0" y="343.6" width="2.0" height="2.8" fill-opacity="0.60"/><rect x="317.7" y="343.6" width="1.3" height="2.8" fill-opacity="0.60"/><rect x="319.8" y="343.6" width="1.2" height="2.8" fill-opacity="0.60"/><rect x="324.7" y="343.6" width="2.9" height="2.8" fill-opacity="0.60"/><rect x="328.6" y="344.3" width="4.5" height="2.8"/><rect x="334.0" y="344.3" width="4.9" height="2.8"/><rect x="339.6" y="341.1" width="3.2" height="2.9" fill-opacity="0.95"/><rect x="343.4" y="341.1" width="3.3" height="2.9" fill-opacity="0.95"/><rect x="351.6" y="341.5" width="15.9" height="2.5"/><rect x="361.3" y="335.5" width="3.4" height="2.6"/><rect x="364.2" y="337.0" width="2.2" height="4.5"/><rect x="360.3" y="337.9" width="1.6" height="3.6" fill-opacity="0.90"/><rect x="539.5" y="344.0" width="1.2" height="3.0" fill-opacity="0.60"/><rect x="543.5" y="344.3" width="1.5" height="3.0" fill-opacity="0.60"/><rect x="549.0" y="341.1" width="2.6" height="2.9"/><rect x="552.1" y="341.1" width="2.6" height="2.9"/><rect x="558.5" y="341.5" width="2.5" height="4.0" fill-opacity="0.80"/><rect x="562.8" y="339.0" width="3.8" height="3.2" fill-opacity="0.95"/><rect x="567.7" y="339.0" width="4.3" height="3.2" fill-opacity="0.95"/><rect x="573.8" y="339.0" width="3.0" height="3.3" fill-opacity="0.95"/><rect x="577.3" y="339.0" width="3.2" height="3.3" fill-opacity="0.95"/><rect x="564.5" y="343.6" width="2.0" height="2.8" fill-opacity="0.60"/><rect x="569.2" y="343.6" width="1.3" height="2.8" fill-opacity="0.60"/><rect x="571.3" y="343.6" width="1.2" height="2.8" fill-opacity="0.60"/><rect x="576.2" y="343.6" width="2.9" height="2.8" fill-opacity="0.60"/><rect x="580.1" y="344.3" width="4.5" height="2.8"/><rect x="585.5" y="344.3" width="4.9" height="2.8"/><rect x="591.1" y="341.1" width="3.2" height="2.9" fill-opacity="0.95"/><rect x="594.9" y="341.1" width="3.3" height="2.9" fill-opacity="0.95"/><rect x="603.1" y="341.5" width="15.9" height="2.5"/><rect x="612.8" y="335.5" width="3.4" height="2.6"/><rect x="615.7" y="337.0" width="2.2" height="4.5"/><rect x="611.8" y="337.9" width="1.6" height="3.6" fill-opacity="0.90"/><rect x="898.0" y="344.0" width="1.2" height="3.0" fill-opacity="0.60"/><rect x="902.0" y="344.3" width="1.5" height="3.0" fill-opacity="0.60"/><rect x="907.5" y="341.1" width="2.6" height="2.9"/><rect x="910.6" y="341.1" width="2.6" height="2.9"/><rect x="917.0" y="341.5" width="2.5" height="4.0" fill-opacity="0.80"/><rect x="921.3" y="339.0" width="3.8" height="3.2" fill-opacity="0.95"/><rect x="926.2" y="339.0" width="4.3" height="3.2" fill-opacity="0.95"/><rect x="932.3" y="339.0" width="3.0" height="3.3" fill-opacity="0.95"/><rect x="935.8" y="339.0" width="3.2" height="3.3" fill-opacity="0.95"/><rect x="923.0" y="343.6" width="2.0" height="2.8" fill-opacity="0.60"/><rect x="927.7" y="343.6" width="1.3" height="2.8" fill-opacity="0.60"/><rect x="929.8" y="343.6" width="1.2" height="2.8" fill-opacity="0.60"/><rect x="934.7" y="343.6" width="2.9" height="2.8" fill-opacity="0.60"/><rect x="938.6" y="344.3" width="4.5" height="2.8"/><rect x="944.0" y="344.3" width="4.9" height="2.8"/><rect x="949.6" y="341.1" width="3.2" height="2.9" fill-opacity="0.95"/><rect x="953.4" y="341.1" width="3.3" height="2.9" fill-opacity="0.95"/><rect x="961.6" y="341.5" width="15.9" height="2.5"/><rect x="971.3" y="335.5" width="3.4" height="2.6"/><rect x="974.2" y="337.0" width="2.2" height="4.5"/><rect x="970.3" y="337.9" width="1.6" height="3.6" fill-opacity="0.90"/><rect x="1169.0" y="343.5" width="1.5" height="2.5"/><rect x="77.0" y="88.6" width="10.0" height="7.3" fill-opacity="0.92"/><rect x="89.0" y="88.6" width="11.0" height="7.3" fill-opacity="0.92"/><rect x="160.0" y="88.6" width="9.0" height="7.3" fill-opacity="0.92"/><rect x="171.0" y="88.6" width="9.5" height="7.3" fill-opacity="0.92"/><rect x="245.0" y="88.6" width="9.0" height="7.3" fill-opacity="0.92"/><rect x="256.0" y="88.6" width="9.0" height="7.3" fill-opacity="0.92"/><rect x="299.0" y="88.6" width="8.0" height="7.3" fill-opacity="0.92"/><rect x="340.0" y="88.6" width="8.0" height="7.3" fill-opacity="0.92"/><rect x="351.5" y="88.6" width="14.5" height="7.3" fill-opacity="0.92"/><rect x="413.5" y="88.6" width="8.5" height="7.3" fill-opacity="0.92"/><rect x="423.5" y="88.6" width="7.5" height="7.3" fill-opacity="0.92"/><rect x="497.0" y="88.6" width="8.0" height="7.3" fill-opacity="0.92"/><rect x="506.5" y="88.6" width="8.0" height="7.3" fill-opacity="0.92"/><rect x="550.0" y="88.6" width="10.0" height="7.3" fill-opacity="0.92"/><rect x="590.0" y="88.6" width="8.0" height="7.3" fill-opacity="0.92"/><rect x="601.0" y="88.6" width="19.0" height="7.3" fill-opacity="0.92"/><rect x="666.0" y="88.6" width="8.0" height="7.3" fill-opacity="0.92"/><rect x="675.5" y="88.6" width="7.5" height="7.3" fill-opacity="0.92"/><rect x="772.0" y="88.6" width="8.0" height="7.3" fill-opacity="0.92"/><rect x="781.5" y="88.6" width="7.5" height="7.3" fill-opacity="0.92"/><rect x="855.0" y="88.6" width="8.0" height="7.3" fill-opacity="0.92"/><rect x="864.5" y="88.6" width="8.5" height="7.3" fill-opacity="0.92"/><rect x="907.0" y="88.6" width="10.0" height="7.3" fill-opacity="0.92"/><rect x="949.5" y="88.6" width="8.5" height="7.3" fill-opacity="0.92"/><rect x="961.0" y="88.6" width="16.0" height="7.3" fill-opacity="0.92"/><rect x="1022.7" y="88.6" width="8.3" height="7.3" fill-opacity="0.92"/><rect x="1032.5" y="88.6" width="7.5" height="7.3" fill-opacity="0.92"/><rect x="1106.0" y="88.6" width="9.0" height="7.3" fill-opacity="0.92"/><rect x="1116.5" y="88.6" width="9.5" height="7.3" fill-opacity="0.92"/><rect x="367.0" y="88.1" width="2.5" height="7.0" fill-opacity="0.50"/><rect x="34.0" y="90.9" width="4.5" height="8.0" fill-opacity="0.90"/><rect x="39.0" y="90.9" width="3.8" height="8.0" fill-opacity="0.90"/><rect x="34.1" y="89.9" width="2.0" height="1.0" fill-opacity="0.70"/><rect x="44.4" y="91.2" width="3.9" height="8.0" fill-opacity="0.90"/><rect x="48.7" y="91.2" width="5.0" height="8.0" fill-opacity="0.90"/><rect x="54.8" y="90.9" width="5.1" height="8.0" fill-opacity="0.90"/><rect x="60.4" y="90.9" width="3.2" height="8.0" fill-opacity="0.90"/><rect x="57.9" y="89.9" width="2.0" height="1.0" fill-opacity="0.70"/><rect x="65.1" y="90.9" width="5.6" height="8.0" fill-opacity="0.90"/><rect x="71.2" y="90.9" width="3.3" height="8.0" fill-opacity="0.90"/><rect x="101.5" y="91.2" width="5.0" height="8.0" fill-opacity="0.90"/><rect x="107.0" y="91.2" width="3.0" height="8.0" fill-opacity="0.90"/><rect x="111.0" y="91.2" width="5.0" height="8.0" fill-opacity="0.90"/><rect x="116.5" y="91.2" width="3.0" height="8.0" fill-opacity="0.90"/><rect x="120.5" y="90.9" width="3.0" height="8.0" fill-opacity="0.90"/><rect x="124.0" y="90.9" width="4.5" height="8.0" fill-opacity="0.90"/><rect x="130.0" y="90.9" width="4.3" height="8.0" fill-opacity="0.90"/><rect x="134.8" y="90.9" width="3.2" height="8.0" fill-opacity="0.90"/><rect x="135.3" y="89.9" width="2.0" height="1.0" fill-opacity="0.70"/><rect x="139.5" y="90.9" width="3.2" height="8.0" fill-opacity="0.90"/><rect x="143.2" y="90.9" width="4.3" height="8.0" fill-opacity="0.90"/><rect x="140.3" y="89.9" width="2.0" height="1.0" fill-opacity="0.70"/><rect x="149.0" y="91.2" width="2.8" height="8.0" fill-opacity="0.90"/><rect x="152.3" y="91.2" width="5.0" height="8.0" fill-opacity="0.90"/><rect x="149.9" y="90.2" width="2.0" height="1.0" fill-opacity="0.70"/><rect x="182.0" y="90.9" width="4.3" height="8.0" fill-opacity="0.90"/><rect x="186.8" y="90.9" width="4.3" height="8.0" fill-opacity="0.90"/><rect x="192.2" y="90.9" width="3.2" height="8.0" fill-opacity="0.90"/><rect x="196.0" y="90.9" width="5.0" height="8.0" fill-opacity="0.90"/><rect x="196.9" y="89.9" width="2.0" height="1.0" fill-opacity="0.70"/><rect x="202.5" y="91.2" width="3.7" height="8.0" fill-opacity="0.90"/><rect x="206.7" y="91.2" width="4.8" height="8.0" fill-opacity="0.90"/><rect x="205.5" y="90.2" width="2.0" height="1.0" fill-opacity="0.70"/><rect x="212.8" y="90.9" width="3.3" height="8.0" fill-opacity="0.90"/><rect x="216.5" y="90.9" width="5.0" height="8.0" fill-opacity="0.90"/><rect x="217.1" y="89.9" width="2.0" height="1.0" fill-opacity="0.70"/><rect x="223.0" y="91.2" width="3.1" height="8.0" fill-opacity="0.90"/><rect x="226.6" y="91.2" width="5.6" height="8.0" fill-opacity="0.90"/><rect x="233.2" y="90.9" width="4.3" height="8.0" fill-opacity="0.90"/><rect x="238.1" y="90.9" width="4.2" height="8.0" fill-opacity="0.90"/><rect x="239.6" y="89.9" width="2.0" height="1.0" fill-opacity="0.70"/><rect x="266.5" y="90.9" width="5.0" height="8.0" fill-opacity="0.90"/><rect x="272.0" y="90.9" width="3.8" height="8.0" fill-opacity="0.90"/><rect x="276.8" y="90.9" width="5.3" height="8.0" fill-opacity="0.90"/><rect x="282.6" y="90.9" width="3.3" height="8.0" fill-opacity="0.90"/><rect x="280.2" y="89.9" width="2.0" height="1.0" fill-opacity="0.70"/><rect x="287.2" y="91.2" width="4.9" height="8.0" fill-opacity="0.90"/><rect x="292.6" y="91.2" width="3.4" height="8.0" fill-opacity="0.90"/><rect x="290.1" y="90.2" width="2.0" height="1.0" fill-opacity="0.70"/><rect x="308.5" y="90.9" width="4.3" height="8.0" fill-opacity="0.90"/><rect x="313.3" y="90.9" width="4.0" height="8.0" fill-opacity="0.90"/><rect x="318.5" y="90.9" width="5.0" height="8.0" fill-opacity="0.90"/><rect x="324.0" y="90.9" width="3.3" height="8.0" fill-opacity="0.90"/><rect x="321.9" y="89.9" width="2.0" height="1.0" fill-opacity="0.70"/><rect x="328.5" y="91.2" width="3.7" height="8.0" fill-opacity="0.90"/><rect x="332.7" y="91.2" width="4.6" height="8.0" fill-opacity="0.90"/><rect x="331.8" y="90.2" width="2.0" height="1.0" fill-opacity="0.70"/><rect x="372.5" y="90.9" width="3.4" height="8.0" fill-opacity="0.90"/><rect x="376.4" y="90.9" width="5.0" height="8.0" fill-opacity="0.90"/><rect x="382.4" y="91.2" width="5.4" height="8.0" fill-opacity="0.90"/><rect x="388.3" y="91.2" width="2.9" height="8.0" fill-opacity="0.90"/><rect x="389.2" y="90.2" width="2.0" height="1.0" fill-opacity="0.70"/><rect x="392.2" y="91.2" width="4.2" height="8.0" fill-opacity="0.90"/><rect x="397.0" y="91.2" width="3.9" height="8.0" fill-opacity="0.90"/><rect x="396.1" y="90.2" width="2.0" height="1.0" fill-opacity="0.70"/><rect x="402.1" y="90.9" width="3.1" height="8.0" fill-opacity="0.90"/><rect x="405.7" y="90.9" width="5.1" height="8.0" fill-opacity="0.90"/><rect x="407.6" y="89.9" width="2.0" height="1.0" fill-opacity="0.70"/><rect x="432.5" y="91.2" width="5.1" height="8.0" fill-opacity="0.90"/><rect x="438.1" y="91.2" width="3.7" height="8.0" fill-opacity="0.90"/><rect x="436.2" y="90.2" width="2.0" height="1.0" fill-opacity="0.70"/><rect x="443.0" y="91.2" width="3.9" height="8.0" fill-opacity="0.90"/><rect x="447.4" y="91.2" width="4.6" height="8.0" fill-opacity="0.90"/><rect x="447.7" y="90.2" width="2.0" height="1.0" fill-opacity="0.70"/><rect x="453.5" y="91.2" width="5.3" height="8.0" fill-opacity="0.90"/><rect x="459.3" y="91.2" width="3.2" height="8.0" fill-opacity="0.90"/><rect x="453.8" y="90.2" width="2.0" height="1.0" fill-opacity="0.70"/><rect x="464.0" y="90.9" width="4.6" height="8.0" fill-opacity="0.90"/><rect x="469.1" y="90.9" width="3.9" height="8.0" fill-opacity="0.90"/><rect x="468.6" y="89.9" width="2.0" height="1.0" fill-opacity="0.70"/><rect x="474.5" y="90.9" width="5.3" height="8.0" fill-opacity="0.90"/><rect x="480.3" y="90.9" width="3.7" height="8.0" fill-opacity="0.90"/><rect x="485.0" y="90.9" width="3.9" height="8.0" fill-opacity="0.90"/><rect x="489.4" y="90.9" width="4.6" height="8.0" fill-opacity="0.90"/><rect x="516.0" y="91.2" width="5.2" height="8.0" fill-opacity="0.90"/><rect x="521.7" y="91.2" width="4.0" height="8.0" fill-opacity="0.90"/><rect x="526.8" y="90.9" width="3.3" height="8.0" fill-opacity="0.90"/><rect x="530.6" y="90.9" width="6.0" height="8.0" fill-opacity="0.90"/><rect x="531.3" y="89.9" width="2.0" height="1.0" fill-opacity="0.70"/><rect x="537.7" y="90.9" width="4.4" height="8.0" fill-opacity="0.90"/><rect x="542.6" y="90.9" width="4.4" height="8.0" fill-opacity="0.90"/><rect x="561.5" y="90.9" width="3.9" height="8.0" fill-opacity="0.90"/><rect x="565.9" y="90.9" width="3.6" height="8.0" fill-opacity="0.90"/><rect x="570.5" y="90.9" width="2.5" height="8.0" fill-opacity="0.90"/><rect x="573.5" y="90.9" width="4.8" height="8.0" fill-opacity="0.90"/><rect x="573.9" y="89.9" width="2.0" height="1.0" fill-opacity="0.70"/><rect x="579.5" y="90.9" width="3.4" height="8.0" fill-opacity="0.90"/><rect x="583.4" y="90.9" width="3.6" height="8.0" fill-opacity="0.90"/><rect x="580.1" y="89.9" width="2.0" height="1.0" fill-opacity="0.70"/><rect x="621.5" y="90.9" width="3.6" height="8.0" fill-opacity="0.90"/><rect x="625.6" y="90.9" width="5.2" height="8.0" fill-opacity="0.90"/><rect x="621.6" y="89.9" width="2.0" height="1.0" fill-opacity="0.70"/><rect x="632.2" y="90.9" width="5.2" height="8.0" fill-opacity="0.90"/><rect x="637.9" y="90.9" width="4.1" height="8.0" fill-opacity="0.90"/><rect x="639.7" y="89.9" width="2.0" height="1.0" fill-opacity="0.70"/><rect x="643.0" y="90.9" width="5.7" height="8.0" fill-opacity="0.90"/><rect x="649.2" y="90.9" width="3.5" height="8.0" fill-opacity="0.90"/><rect x="643.1" y="89.9" width="2.0" height="1.0" fill-opacity="0.70"/><rect x="653.8" y="91.2" width="3.7" height="8.0" fill-opacity="0.90"/><rect x="657.9" y="91.2" width="5.1" height="8.0" fill-opacity="0.90"/><rect x="684.5" y="90.9" width="5.0" height="8.0" fill-opacity="0.90"/><rect x="690.0" y="90.9" width="6.0" height="8.0" fill-opacity="0.90"/><rect x="697.0" y="90.9" width="6.0" height="8.0" fill-opacity="0.90"/><rect x="703.5" y="90.9" width="4.5" height="8.0" fill-opacity="0.90"/><rect x="702.7" y="89.9" width="2.0" height="1.0" fill-opacity="0.70"/><rect x="730.5" y="90.9" width="3.9" height="8.0" fill-opacity="0.90"/><rect x="734.9" y="90.9" width="4.1" height="8.0" fill-opacity="0.90"/><rect x="740.5" y="90.9" width="4.7" height="8.0" fill-opacity="0.90"/><rect x="745.7" y="90.9" width="3.6" height="8.0" fill-opacity="0.90"/><rect x="740.6" y="89.9" width="2.0" height="1.0" fill-opacity="0.70"/><rect x="750.5" y="91.2" width="4.8" height="8.0" fill-opacity="0.90"/><rect x="755.8" y="91.2" width="3.2" height="8.0" fill-opacity="0.90"/><rect x="752.5" y="90.2" width="2.0" height="1.0" fill-opacity="0.70"/><rect x="760.5" y="91.2" width="3.1" height="8.0" fill-opacity="0.90"/><rect x="764.1" y="91.2" width="4.9" height="8.0" fill-opacity="0.90"/><rect x="790.5" y="91.2" width="3.2" height="8.0" fill-opacity="0.90"/><rect x="794.2" y="91.2" width="5.6" height="8.0" fill-opacity="0.90"/><rect x="794.7" y="90.2" width="2.0" height="1.0" fill-opacity="0.70"/><rect x="801.0" y="90.9" width="4.9" height="8.0" fill-opacity="0.90"/><rect x="806.4" y="90.9" width="3.9" height="8.0" fill-opacity="0.90"/><rect x="806.8" y="89.9" width="2.0" height="1.0" fill-opacity="0.70"/><rect x="811.5" y="91.2" width="3.5" height="8.0" fill-opacity="0.90"/><rect x="815.5" y="91.2" width="5.3" height="8.0" fill-opacity="0.90"/><rect x="822.0" y="90.9" width="5.2" height="8.0" fill-opacity="0.90"/><rect x="827.7" y="90.9" width="3.6" height="8.0" fill-opacity="0.90"/><rect x="824.0" y="89.9" width="2.0" height="1.0" fill-opacity="0.70"/><rect x="832.5" y="90.9" width="3.7" height="8.0" fill-opacity="0.90"/><rect x="836.7" y="90.9" width="4.8" height="8.0" fill-opacity="0.90"/><rect x="839.3" y="89.9" width="2.0" height="1.0" fill-opacity="0.70"/><rect x="843.0" y="91.2" width="3.8" height="8.0" fill-opacity="0.90"/><rect x="847.3" y="91.2" width="4.7" height="8.0" fill-opacity="0.90"/><rect x="874.5" y="90.9" width="4.7" height="8.0" fill-opacity="0.90"/><rect x="879.7" y="90.9" width="4.1" height="8.0" fill-opacity="0.90"/><rect x="877.6" y="89.9" width="2.0" height="1.0" fill-opacity="0.70"/><rect x="884.8" y="90.9" width="4.1" height="8.0" fill-opacity="0.90"/><rect x="889.4" y="90.9" width="4.7" height="8.0" fill-opacity="0.90"/><rect x="890.5" y="89.9" width="2.0" height="1.0" fill-opacity="0.70"/><rect x="895.2" y="90.9" width="3.8" height="8.0" fill-opacity="0.90"/><rect x="899.5" y="90.9" width="5.0" height="8.0" fill-opacity="0.90"/><rect x="897.1" y="89.9" width="2.0" height="1.0" fill-opacity="0.70"/><rect x="918.5" y="90.9" width="4.3" height="8.0" fill-opacity="0.90"/><rect x="923.3" y="90.9" width="3.8" height="8.0" fill-opacity="0.90"/><rect x="928.3" y="90.9" width="5.0" height="8.0" fill-opacity="0.90"/><rect x="933.9" y="90.9" width="3.3" height="8.0" fill-opacity="0.90"/><rect x="938.2" y="90.9" width="3.4" height="8.0" fill-opacity="0.90"/><rect x="942.0" y="90.9" width="4.5" height="8.0" fill-opacity="0.90"/><rect x="978.5" y="91.2" width="5.1" height="8.0" fill-opacity="0.90"/><rect x="984.1" y="91.2" width="3.6" height="8.0" fill-opacity="0.90"/><rect x="982.3" y="90.2" width="2.0" height="1.0" fill-opacity="0.70"/><rect x="989.2" y="91.2" width="4.3" height="8.0" fill-opacity="0.90"/><rect x="994.0" y="91.2" width="4.4" height="8.0" fill-opacity="0.90"/><rect x="994.8" y="90.2" width="2.0" height="1.0" fill-opacity="0.70"/><rect x="999.9" y="90.9" width="3.8" height="8.0" fill-opacity="0.90"/><rect x="1004.2" y="90.9" width="4.9" height="8.0" fill-opacity="0.90"/><rect x="1002.7" y="89.9" width="2.0" height="1.0" fill-opacity="0.70"/><rect x="1010.5" y="90.9" width="5.5" height="8.0" fill-opacity="0.90"/><rect x="1016.5" y="90.9" width="3.2" height="8.0" fill-opacity="0.90"/><rect x="1041.5" y="90.9" width="4.4" height="8.0" fill-opacity="0.90"/><rect x="1046.4" y="90.9" width="4.6" height="8.0" fill-opacity="0.90"/><rect x="1047.5" y="89.9" width="2.0" height="1.0" fill-opacity="0.70"/><rect x="1052.0" y="90.9" width="4.2" height="8.0" fill-opacity="0.90"/><rect x="1056.7" y="90.9" width="4.8" height="8.0" fill-opacity="0.90"/><rect x="1062.5" y="91.2" width="3.9" height="8.0" fill-opacity="0.90"/><rect x="1066.9" y="91.2" width="4.9" height="8.0" fill-opacity="0.90"/><rect x="1073.0" y="90.9" width="3.7" height="8.0" fill-opacity="0.90"/><rect x="1077.2" y="90.9" width="5.3" height="8.0" fill-opacity="0.90"/><rect x="1079.0" y="89.9" width="2.0" height="1.0" fill-opacity="0.70"/><rect x="1083.5" y="90.9" width="4.6" height="8.0" fill-opacity="0.90"/><rect x="1088.6" y="90.9" width="4.2" height="8.0" fill-opacity="0.90"/><rect x="1089.2" y="89.9" width="2.0" height="1.0" fill-opacity="0.70"/><rect x="1094.0" y="90.9" width="3.2" height="8.0" fill-opacity="0.90"/><rect x="1097.7" y="90.9" width="5.8" height="8.0" fill-opacity="0.90"/><rect x="1127.5" y="90.9" width="4.6" height="8.0" fill-opacity="0.90"/><rect x="1132.6" y="90.9" width="5.4" height="8.0" fill-opacity="0.90"/><rect x="1128.2" y="89.9" width="2.0" height="1.0" fill-opacity="0.70"/><rect x="1139.2" y="91.2" width="3.5" height="8.0" fill-opacity="0.90"/><rect x="1143.3" y="91.2" width="6.5" height="8.0" fill-opacity="0.90"/><rect x="1144.4" y="90.2" width="2.0" height="1.0" fill-opacity="0.70"/><rect x="1169.0" y="91.9" width="1.5" height="6.0"/><rect x="116.0" y="136.9" width="2.0" height="3.5" fill-opacity="0.85"/><rect x="119.0" y="138.9" width="2.0" height="3.5" fill-opacity="0.85"/><rect x="125.0" y="139.9" width="2.0" height="3.5" fill-opacity="0.75"/><rect x="128.0" y="139.4" width="2.0" height="3.5" fill-opacity="0.85"/><rect x="133.5" y="137.9" width="2.0" height="3.5" fill-opacity="0.85"/><rect x="136.0" y="138.4" width="3.0" height="3.5" fill-opacity="0.95"/><rect x="143.5" y="139.4" width="2.0" height="3.5" fill-opacity="0.95"/><rect x="146.5" y="139.4" width="3.0" height="3.5" fill-opacity="0.85"/><rect x="154.0" y="136.9" width="2.0" height="3.5" fill-opacity="0.75"/><rect x="157.0" y="136.9" width="2.0" height="3.5" fill-opacity="0.95"/><rect x="162.5" y="139.4" width="3.0" height="3.5" fill-opacity="0.75"/><rect x="166.0" y="139.4" width="2.0" height="3.5" fill-opacity="0.75"/><rect x="173.0" y="139.4" width="3.0" height="3.5" fill-opacity="0.85"/><rect x="177.0" y="139.9" width="2.0" height="3.5" fill-opacity="0.85"/><rect x="179.5" y="138.9" width="2.0" height="3.5" fill-opacity="0.85"/><rect x="187.0" y="137.9" width="1.5" height="3.5" fill-opacity="0.95"/><rect x="189.0" y="138.4" width="1.5" height="3.5" fill-opacity="0.75"/><rect x="195.0" y="138.4" width="3.0" height="3.5" fill-opacity="0.85"/><rect x="198.5" y="137.9" width="1.5" height="3.5" fill-opacity="0.85"/><rect x="201.0" y="137.9" width="2.0" height="3.5" fill-opacity="0.75"/><rect x="208.0" y="138.4" width="2.0" height="3.5" fill-opacity="0.75"/><rect x="211.0" y="136.9" width="3.0" height="3.5" fill-opacity="0.75"/><rect x="219.0" y="137.4" width="3.0" height="3.5" fill-opacity="0.75"/><rect x="222.5" y="135.9" width="2.0" height="3.5" fill-opacity="0.85"/><rect x="229.5" y="137.9" width="1.5" height="3.5" fill-opacity="0.85"/><rect x="232.0" y="137.4" width="1.5" height="3.5" fill-opacity="0.95"/><rect x="238.0" y="137.4" width="2.0" height="3.5" fill-opacity="0.85"/><rect x="240.5" y="136.9" width="2.0" height="3.5" fill-opacity="0.85"/><rect x="243.0" y="137.4" width="2.0" height="3.5" fill-opacity="0.85"/><rect x="251.0" y="138.4" width="2.0" height="3.5" fill-opacity="0.95"/><rect x="253.5" y="136.9" width="3.0" height="3.5" fill-opacity="0.85"/><rect x="261.5" y="138.4" width="2.0" height="3.5" fill-opacity="0.85"/><rect x="264.5" y="137.9" width="1.5" height="3.5" fill-opacity="0.75"/><rect x="271.0" y="138.4" width="2.0" height="3.5" fill-opacity="0.75"/><rect x="274.0" y="138.4" width="1.5" height="3.5" fill-opacity="0.95"/><rect x="281.5" y="138.4" width="2.0" height="3.5" fill-opacity="0.95"/><rect x="284.5" y="136.9" width="2.0" height="3.5" fill-opacity="0.85"/><rect x="290.0" y="136.9" width="3.0" height="3.5" fill-opacity="0.95"/><rect x="294.0" y="137.4" width="2.0" height="3.5" fill-opacity="0.95"/><rect x="300.0" y="137.4" width="3.0" height="3.5" fill-opacity="0.95"/><rect x="304.0" y="137.4" width="2.0" height="3.5" fill-opacity="0.95"/><rect x="310.0" y="135.4" width="2.0" height="3.5" fill-opacity="0.95"/><rect x="312.5" y="135.4" width="2.0" height="3.5" fill-opacity="0.85"/><rect x="329.0" y="138.9" width="2.0" height="3.5" fill-opacity="0.95"/><rect x="332.0" y="138.9" width="1.5" height="3.5" fill-opacity="0.75"/><rect x="339.5" y="137.9" width="1.5" height="3.5" fill-opacity="0.95"/><rect x="341.5" y="139.4" width="1.5" height="3.5" fill-opacity="0.75"/><rect x="347.5" y="138.9" width="2.0" height="3.5" fill-opacity="0.95"/><rect x="350.0" y="138.4" width="1.5" height="3.5" fill-opacity="0.95"/><rect x="356.5" y="136.9" width="3.0" height="3.5" fill-opacity="0.75"/><rect x="360.5" y="138.4" width="3.0" height="3.5" fill-opacity="0.85"/><rect x="368.0" y="137.9" width="1.5" height="3.5" fill-opacity="0.85"/><rect x="370.5" y="138.4" width="2.0" height="3.5" fill-opacity="0.75"/><rect x="378.0" y="139.4" width="2.0" height="3.5" fill-opacity="0.75"/><rect x="381.0" y="138.9" width="3.0" height="3.5" fill-opacity="0.75"/><rect x="389.5" y="136.9" width="1.5" height="3.5" fill-opacity="0.75"/><rect x="392.0" y="136.9" width="2.0" height="3.5" fill-opacity="0.75"/><rect x="395.0" y="135.9" width="3.0" height="3.5" fill-opacity="0.85"/><rect x="402.0" y="139.9" width="2.0" height="3.5" fill-opacity="0.75"/><rect x="405.0" y="139.9" width="1.5" height="3.5" fill-opacity="0.75"/><rect x="411.5" y="138.4" width="3.0" height="3.5" fill-opacity="0.95"/><rect x="415.5" y="138.4" width="1.5" height="3.5" fill-opacity="0.75"/><rect x="423.0" y="136.9" width="1.5" height="3.5" fill-opacity="0.75"/><rect x="425.5" y="135.4" width="2.0" height="3.5" fill-opacity="0.85"/><rect x="431.5" y="138.4" width="2.0" height="3.5" fill-opacity="0.95"/><rect x="434.0" y="138.4" width="3.0" height="3.5" fill-opacity="0.75"/><rect x="438.0" y="138.9" width="1.5" height="3.5" fill-opacity="0.85"/><rect x="444.5" y="138.4" width="2.0" height="3.5" fill-opacity="0.85"/><rect x="447.5" y="137.9" width="2.0" height="3.5" fill-opacity="0.75"/><rect x="454.5" y="137.9" width="2.0" height="3.5" fill-opacity="0.75"/><rect x="457.5" y="135.9" width="1.5" height="3.5" fill-opacity="0.85"/><rect x="464.0" y="135.9" width="2.0" height="3.5" fill-opacity="0.95"/><rect x="467.0" y="135.9" width="3.0" height="3.5" fill-opacity="0.85"/><rect x="471.0" y="136.9" width="3.0" height="3.5" fill-opacity="0.85"/><rect x="478.5" y="136.9" width="2.0" height="3.5" fill-opacity="0.95"/><rect x="481.5" y="138.4" width="3.0" height="3.5" fill-opacity="0.85"/><rect x="489.0" y="138.9" width="2.0" height="3.5" fill-opacity="0.85"/><rect x="492.0" y="139.9" width="2.0" height="3.5" fill-opacity="0.75"/><rect x="498.5" y="137.9" width="2.0" height="3.5" fill-opacity="0.95"/><rect x="501.0" y="137.9" width="3.0" height="3.5" fill-opacity="0.85"/><rect x="505.0" y="136.9" width="1.5" height="3.5" fill-opacity="0.75"/><rect x="511.5" y="138.4" width="2.0" height="3.5" fill-opacity="0.95"/><rect x="514.0" y="136.9" width="2.0" height="3.5" fill-opacity="0.75"/><rect x="522.0" y="136.4" width="2.0" height="3.5" fill-opacity="0.75"/><rect x="524.5" y="135.4" width="3.0" height="3.5" fill-opacity="0.95"/><rect x="533.0" y="138.9" width="2.0" height="3.5" fill-opacity="0.85"/><rect x="536.0" y="138.9" width="1.5" height="3.5" fill-opacity="0.85"/><rect x="543.5" y="137.4" width="2.0" height="3.5" fill-opacity="0.85"/><rect x="546.5" y="137.4" width="3.0" height="3.5" fill-opacity="0.75"/><rect x="555.5" y="137.4" width="2.0" height="3.5" fill-opacity="0.95"/><rect x="558.5" y="136.9" width="2.0" height="3.5" fill-opacity="0.95"/><rect x="581.0" y="136.9" width="2.0" height="3.5" fill-opacity="0.75"/><rect x="584.0" y="137.9" width="2.0" height="3.5" fill-opacity="0.75"/><rect x="586.5" y="138.9" width="1.5" height="3.5" fill-opacity="0.95"/><rect x="591.0" y="136.9" width="3.0" height="3.5" fill-opacity="0.95"/><rect x="595.0" y="137.9" width="3.0" height="3.5" fill-opacity="0.85"/><rect x="599.0" y="136.9" width="1.5" height="3.5" fill-opacity="0.95"/><rect x="601.5" y="138.4" width="3.0" height="3.5" fill-opacity="0.95"/><rect x="605.0" y="138.4" width="2.0" height="3.5" fill-opacity="0.85"/><rect x="610.5" y="136.9" width="2.0" height="3.5" fill-opacity="0.85"/><rect x="613.5" y="136.4" width="3.0" height="3.5" fill-opacity="0.95"/><rect x="617.5" y="135.4" width="2.0" height="3.5" fill-opacity="0.95"/><rect x="620.0" y="137.4" width="2.0" height="3.5" fill-opacity="0.85"/><rect x="624.5" y="139.4" width="2.0" height="3.5" fill-opacity="0.95"/><rect x="627.5" y="137.9" width="2.0" height="3.5" fill-opacity="0.85"/><rect x="630.5" y="137.9" width="2.0" height="3.5" fill-opacity="0.85"/><rect x="633.5" y="137.9" width="2.0" height="3.5" fill-opacity="0.75"/><rect x="638.0" y="137.4" width="1.5" height="3.5" fill-opacity="0.95"/><rect x="640.5" y="136.4" width="1.5" height="3.5" fill-opacity="0.75"/><rect x="642.5" y="135.4" width="2.0" height="3.5" fill-opacity="0.75"/><rect x="647.5" y="139.4" width="1.5" height="3.5" fill-opacity="0.75"/><rect x="649.5" y="137.9" width="3.0" height="3.5" fill-opacity="0.95"/><rect x="653.5" y="137.9" width="2.0" height="3.5" fill-opacity="0.75"/><rect x="659.0" y="136.9" width="2.0" height="3.5" fill-opacity="0.95"/><rect x="661.5" y="138.4" width="1.5" height="3.5" fill-opacity="0.75"/><rect x="663.5" y="137.9" width="3.0" height="3.5" fill-opacity="0.95"/><rect x="669.0" y="138.4" width="2.0" height="3.5" fill-opacity="0.95"/><rect x="671.5" y="138.9" width="2.0" height="3.5" fill-opacity="0.75"/><rect x="674.0" y="138.4" width="2.0" height="3.5" fill-opacity="0.95"/><rect x="676.5" y="138.4" width="2.0" height="3.5" fill-opacity="0.85"/><rect x="679.5" y="138.4" width="3.0" height="3.5" fill-opacity="0.75"/><rect x="685.0" y="138.4" width="3.0" height="3.5" fill-opacity="0.95"/><rect x="688.5" y="138.4" width="2.0" height="3.5" fill-opacity="0.75"/><rect x="691.0" y="138.9" width="2.0" height="3.5" fill-opacity="0.75"/><rect x="694.0" y="137.9" width="2.0" height="3.5" fill-opacity="0.95"/><rect x="697.0" y="138.4" width="3.0" height="3.5" fill-opacity="0.75"/><rect x="703.0" y="136.4" width="2.0" height="3.5" fill-opacity="0.85"/><rect x="706.0" y="136.9" width="3.0" height="3.5" fill-opacity="0.75"/><rect x="709.5" y="136.9" width="2.0" height="3.5" fill-opacity="0.85"/><rect x="712.5" y="136.9" width="2.0" height="3.5" fill-opacity="0.85"/><rect x="715.5" y="136.9" width="2.0" height="3.5" fill-opacity="0.85"/><rect x="720.5" y="137.4" width="1.5" height="3.5" fill-opacity="0.85"/><rect x="723.0" y="136.9" width="2.0" height="3.5" fill-opacity="0.75"/><rect x="726.0" y="137.9" width="2.0" height="3.5" fill-opacity="0.75"/><rect x="809.0" y="137.4" width="1.5" height="3.5" fill-opacity="0.75"/><rect x="811.0" y="136.9" width="2.0" height="3.5" fill-opacity="0.75"/><rect x="818.0" y="137.4" width="3.0" height="3.5" fill-opacity="0.75"/><rect x="822.0" y="137.4" width="2.0" height="3.5" fill-opacity="0.95"/><rect x="825.0" y="135.9" width="3.0" height="3.5" fill-opacity="0.75"/><rect x="834.0" y="137.9" width="2.0" height="3.5" fill-opacity="0.95"/><rect x="836.5" y="136.9" width="2.0" height="3.5" fill-opacity="0.85"/><rect x="839.5" y="136.9" width="2.0" height="3.5" fill-opacity="0.75"/><rect x="846.5" y="136.9" width="1.5" height="3.5" fill-opacity="0.85"/><rect x="849.0" y="138.4" width="3.0" height="3.5" fill-opacity="0.95"/><rect x="857.0" y="138.4" width="3.0" height="3.5" fill-opacity="0.95"/><rect x="860.5" y="138.9" width="2.0" height="3.5" fill-opacity="0.75"/><rect x="866.5" y="137.9" width="2.0" height="3.5" fill-opacity="0.85"/><rect x="869.0" y="139.9" width="1.5" height="3.5" fill-opacity="0.75"/><rect x="875.0" y="137.4" width="3.0" height="3.5" fill-opacity="0.85"/><rect x="879.0" y="136.9" width="3.0" height="3.5" fill-opacity="0.85"/><rect x="885.5" y="136.4" width="2.0" height="3.5" fill-opacity="0.75"/><rect x="888.5" y="136.9" width="3.0" height="3.5" fill-opacity="0.85"/><rect x="895.5" y="138.9" width="1.5" height="3.5" fill-opacity="0.95"/><rect x="898.0" y="138.4" width="2.0" height="3.5" fill-opacity="0.85"/><rect x="904.5" y="138.4" width="2.0" height="3.5" fill-opacity="0.85"/><rect x="907.5" y="136.9" width="1.5" height="3.5" fill-opacity="0.85"/><rect x="914.0" y="136.9" width="3.0" height="3.5" fill-opacity="0.85"/><rect x="918.0" y="138.4" width="2.0" height="3.5" fill-opacity="0.75"/><rect x="921.0" y="138.4" width="2.0" height="3.5" fill-opacity="0.95"/><rect x="938.0" y="136.9" width="1.5" height="3.5" fill-opacity="0.85"/><rect x="940.0" y="136.9" width="2.0" height="3.5" fill-opacity="0.85"/><rect x="943.0" y="135.4" width="3.0" height="3.5" fill-opacity="0.75"/><rect x="949.5" y="137.9" width="3.0" height="3.5" fill-opacity="0.85"/><rect x="953.5" y="136.9" width="3.0" height="3.5" fill-opacity="0.75"/><rect x="957.5" y="137.9" width="2.0" height="3.5" fill-opacity="0.95"/><rect x="962.0" y="136.9" width="1.5" height="3.5" fill-opacity="0.85"/><rect x="964.0" y="138.4" width="2.0" height="3.5" fill-opacity="0.95"/><rect x="967.0" y="138.4" width="2.0" height="3.5" fill-opacity="0.75"/><rect x="970.0" y="137.9" width="2.0" height="3.5" fill-opacity="0.75"/><rect x="975.0" y="137.9" width="2.0" height="3.5" fill-opacity="0.95"/><rect x="978.0" y="138.4" width="2.0" height="3.5" fill-opacity="0.75"/><rect x="981.0" y="138.4" width="3.0" height="3.5" fill-opacity="0.95"/><rect x="985.0" y="138.4" width="2.0" height="3.5" fill-opacity="0.95"/><rect x="990.0" y="138.4" width="2.0" height="3.5" fill-opacity="0.95"/><rect x="993.0" y="138.4" width="2.0" height="3.5" fill-opacity="0.95"/><rect x="996.0" y="138.4" width="3.0" height="3.5" fill-opacity="0.75"/><rect x="1000.0" y="138.4" width="2.0" height="3.5" fill-opacity="0.85"/><rect x="1003.0" y="138.4" width="2.0" height="3.5" fill-opacity="0.75"/><rect x="1008.0" y="137.9" width="2.0" height="3.5" fill-opacity="0.75"/><rect x="1010.5" y="137.9" width="2.0" height="3.5" fill-opacity="0.85"/><rect x="1013.5" y="138.9" width="2.0" height="3.5" fill-opacity="0.75"/><rect x="1018.0" y="137.9" width="3.0" height="3.5" fill-opacity="0.75"/><rect x="1022.0" y="136.9" width="2.0" height="3.5" fill-opacity="0.85"/><rect x="1024.5" y="137.9" width="3.0" height="3.5" fill-opacity="0.85"/><rect x="1030.5" y="138.4" width="2.0" height="3.5" fill-opacity="0.95"/><rect x="1033.5" y="138.4" width="2.0" height="3.5" fill-opacity="0.75"/><rect x="1036.0" y="138.4" width="1.5" height="3.5" fill-opacity="0.85"/><rect x="1038.0" y="138.9" width="2.0" height="3.5" fill-opacity="0.75"/><rect x="1043.5" y="138.9" width="1.5" height="3.5" fill-opacity="0.95"/><rect x="1046.0" y="137.9" width="2.0" height="3.5" fill-opacity="0.75"/><rect x="1049.0" y="138.9" width="2.0" height="3.5" fill-opacity="0.75"/><rect x="1052.0" y="136.9" width="2.0" height="3.5" fill-opacity="0.85"/><rect x="1055.0" y="138.4" width="2.0" height="3.5" fill-opacity="0.75"/><rect x="1060.0" y="136.9" width="3.0" height="3.5" fill-opacity="0.75"/><rect x="1064.0" y="136.4" width="3.0" height="3.5" fill-opacity="0.95"/><rect x="1067.5" y="135.4" width="2.0" height="3.5" fill-opacity="0.95"/><rect x="1070.5" y="136.9" width="1.5" height="3.5" fill-opacity="0.95"/><rect x="1072.5" y="136.9" width="2.0" height="3.5" fill-opacity="0.85"/><rect x="1077.5" y="137.9" width="3.0" height="3.5" fill-opacity="0.75"/><rect x="1081.0" y="138.4" width="2.0" height="3.5" fill-opacity="0.75"/><rect x="1084.0" y="138.4" width="3.0" height="3.5" fill-opacity="0.85"/><rect x="1090.0" y="139.9" width="3.0" height="3.5" fill-opacity="0.75"/><rect x="1094.0" y="139.4" width="1.5" height="3.5" fill-opacity="0.95"/><rect x="1096.0" y="139.9" width="3.0" height="3.5" fill-opacity="0.75"/><rect x="1102.5" y="137.9" width="2.0" height="3.5" fill-opacity="0.75"/><rect x="1105.5" y="136.9" width="2.0" height="3.5" fill-opacity="0.85"/><rect x="1108.5" y="137.9" width="2.0" height="3.5" fill-opacity="0.95"/><rect x="1111.5" y="138.4" width="1.5" height="3.5" fill-opacity="0.95"/><rect x="1114.0" y="136.9" width="2.0" height="3.5" fill-opacity="0.95"/><rect x="1119.5" y="136.9" width="2.0" height="3.5" fill-opacity="0.95"/><rect x="1122.5" y="137.9" width="2.0" height="3.5" fill-opacity="0.85"/><rect x="1125.5" y="137.4" width="1.5" height="3.5" fill-opacity="0.75"/><rect x="1128.0" y="137.4" width="3.0" height="3.5" fill-opacity="0.75"/><rect x="1132.0" y="135.9" width="2.0" height="3.5" fill-opacity="0.95"/><rect x="1137.0" y="137.9" width="3.0" height="3.5" fill-opacity="0.85"/><rect x="1140.5" y="138.4" width="2.0" height="3.5" fill-opacity="0.75"/><rect x="1143.5" y="138.4" width="1.5" height="3.5" fill-opacity="0.85"/><rect x="1146.0" y="138.4" width="1.5" height="3.5" fill-opacity="0.95"/><rect x="1148.5" y="137.9" width="2.0" height="3.5" fill-opacity="0.75"/><rect x="1153.5" y="137.9" width="1.5" height="3.5" fill-opacity="0.95"/><rect x="1156.0" y="138.9" width="1.5" height="3.5" fill-opacity="0.95"/><rect x="1158.0" y="139.4" width="3.0" height="3.5" fill-opacity="0.95"/><rect x="1164.5" y="137.9" width="1.5" height="3.5" fill-opacity="0.95"/><rect x="1167.0" y="138.4" width="2.0" height="3.5" fill-opacity="0.95"/><rect x="200.0" y="184.9" width="1.5" height="3.5" fill-opacity="0.75"/><rect x="202.0" y="185.4" width="2.0" height="3.5" fill-opacity="0.75"/><rect x="209.0" y="185.4" width="1.5" height="3.5" fill-opacity="0.85"/><rect x="211.0" y="183.9" width="2.0" height="3.5" fill-opacity="0.75"/><rect x="218.0" y="185.4" width="2.0" height="3.5" fill-opacity="0.85"/><rect x="220.5" y="185.9" width="2.0" height="3.5" fill-opacity="0.95"/><rect x="227.5" y="182.9" width="1.5" height="3.5" fill-opacity="0.85"/><rect x="229.5" y="182.9" width="2.0" height="3.5" fill-opacity="0.85"/><rect x="232.5" y="184.4" width="1.5" height="3.5" fill-opacity="0.95"/><rect x="238.5" y="185.4" width="3.0" height="3.5" fill-opacity="0.95"/><rect x="242.5" y="185.4" width="1.5" height="3.5" fill-opacity="0.85"/><rect x="247.5" y="183.9" width="2.0" height="3.5" fill-opacity="0.85"/><rect x="250.5" y="185.4" width="3.0" height="3.5" fill-opacity="0.95"/><rect x="258.5" y="185.9" width="1.5" height="3.5" fill-opacity="0.75"/><rect x="261.0" y="185.4" width="3.0" height="3.5" fill-opacity="0.75"/><rect x="268.5" y="183.4" width="3.0" height="3.5" fill-opacity="0.75"/><rect x="305.0" y="185.9" width="1.5" height="3.5" fill-opacity="0.85"/><rect x="307.5" y="185.9" width="2.0" height="3.5" fill-opacity="0.75"/><rect x="368.0" y="184.9" width="2.0" height="3.5" fill-opacity="0.85"/><rect x="371.0" y="184.9" width="3.0" height="3.5" fill-opacity="0.85"/><rect x="378.0" y="186.9" width="3.0" height="3.5" fill-opacity="0.75"/><rect x="381.5" y="185.9" width="2.0" height="3.5" fill-opacity="0.95"/><rect x="388.0" y="184.4" width="2.0" height="3.5" fill-opacity="0.85"/><rect x="391.0" y="182.4" width="1.5" height="3.5" fill-opacity="0.85"/><rect x="393.5" y="183.9" width="2.0" height="3.5" fill-opacity="0.95"/><rect x="400.0" y="184.4" width="1.5" height="3.5" fill-opacity="0.85"/><rect x="402.0" y="183.9" width="2.0" height="3.5" fill-opacity="0.85"/><rect x="409.0" y="184.4" width="2.0" height="3.5" fill-opacity="0.95"/><rect x="412.0" y="184.4" width="3.0" height="3.5" fill-opacity="0.75"/><rect x="416.0" y="184.4" width="2.0" height="3.5" fill-opacity="0.85"/><rect x="423.0" y="185.4" width="2.0" height="3.5" fill-opacity="0.75"/><rect x="425.5" y="184.9" width="1.5" height="3.5" fill-opacity="0.85"/><rect x="433.0" y="183.9" width="2.0" height="3.5" fill-opacity="0.75"/><rect x="435.5" y="185.9" width="2.0" height="3.5" fill-opacity="0.85"/><rect x="451.0" y="183.9" width="1.5" height="3.5" fill-opacity="0.75"/><rect x="453.5" y="184.9" width="2.0" height="3.5" fill-opacity="0.85"/><rect x="461.5" y="185.9" width="3.0" height="3.5" fill-opacity="0.75"/><rect x="465.5" y="183.9" width="2.0" height="3.5" fill-opacity="0.75"/><rect x="468.0" y="185.4" width="2.0" height="3.5" fill-opacity="0.95"/><rect x="495.0" y="184.4" width="3.0" height="3.5" fill-opacity="0.95"/><rect x="499.0" y="184.4" width="1.5" height="3.5" fill-opacity="0.75"/><rect x="504.5" y="186.4" width="1.5" height="3.5" fill-opacity="0.75"/><rect x="507.0" y="186.4" width="2.0" height="3.5" fill-opacity="0.75"/><rect x="513.5" y="184.4" width="1.5" height="3.5" fill-opacity="0.75"/><rect x="515.5" y="184.4" width="2.0" height="3.5" fill-opacity="0.95"/><rect x="518.0" y="183.4" width="3.0" height="3.5" fill-opacity="0.95"/><rect x="526.0" y="185.4" width="3.0" height="3.5" fill-opacity="0.75"/><rect x="530.0" y="184.9" width="2.0" height="3.5" fill-opacity="0.95"/><rect x="559.0" y="185.9" width="1.5" height="3.5" fill-opacity="0.95"/><rect x="561.5" y="185.4" width="2.0" height="3.5" fill-opacity="0.85"/><rect x="623.0" y="185.4" width="1.5" height="3.5" fill-opacity="0.75"/><rect x="625.0" y="185.9" width="1.5" height="3.5" fill-opacity="0.85"/><rect x="631.5" y="182.4" width="2.0" height="3.5" fill-opacity="0.95"/><rect x="634.5" y="182.4" width="2.0" height="3.5" fill-opacity="0.85"/><rect x="637.5" y="183.9" width="3.0" height="3.5" fill-opacity="0.95"/><rect x="646.5" y="183.9" width="2.0" height="3.5" fill-opacity="0.95"/><rect x="649.5" y="185.9" width="2.0" height="3.5" fill-opacity="0.75"/><rect x="652.5" y="185.4" width="3.0" height="3.5" fill-opacity="0.95"/><rect x="660.5" y="185.4" width="3.0" height="3.5" fill-opacity="0.75"/><rect x="664.5" y="185.4" width="2.0" height="3.5" fill-opacity="0.75"/><rect x="667.5" y="183.9" width="2.0" height="3.5" fill-opacity="0.75"/><rect x="674.5" y="185.4" width="2.0" height="3.5" fill-opacity="0.95"/><rect x="677.0" y="185.4" width="2.0" height="3.5" fill-opacity="0.85"/><rect x="680.0" y="185.9" width="2.0" height="3.5" fill-opacity="0.85"/><rect x="687.0" y="185.4" width="1.5" height="3.5" fill-opacity="0.75"/><rect x="689.5" y="185.9" width="3.0" height="3.5" fill-opacity="0.75"/><rect x="698.0" y="184.4" width="2.0" height="3.5" fill-opacity="0.85"/><rect x="700.5" y="183.9" width="2.0" height="3.5" fill-opacity="0.75"/><rect x="707.0" y="185.9" width="3.0" height="3.5" fill-opacity="0.85"/><rect x="711.0" y="183.9" width="2.0" height="3.5" fill-opacity="0.75"/><rect x="718.0" y="185.4" width="2.0" height="3.5" fill-opacity="0.85"/><rect x="720.5" y="185.4" width="3.0" height="3.5" fill-opacity="0.75"/><rect x="813.0" y="186.4" width="1.5" height="3.5" fill-opacity="0.95"/><rect x="815.5" y="185.9" width="1.5" height="3.5" fill-opacity="0.75"/><rect x="822.0" y="183.9" width="1.5" height="3.5" fill-opacity="0.75"/><rect x="824.0" y="184.4" width="2.0" height="3.5" fill-opacity="0.75"/><rect x="831.0" y="184.9" width="3.0" height="3.5" fill-opacity="0.75"/><rect x="835.0" y="184.9" width="2.0" height="3.5" fill-opacity="0.85"/><rect x="841.5" y="183.9" width="1.5" height="3.5" fill-opacity="0.75"/><rect x="844.0" y="182.4" width="2.0" height="3.5" fill-opacity="0.85"/><rect x="850.0" y="185.9" width="1.5" height="3.5" fill-opacity="0.75"/><rect x="852.0" y="184.9" width="1.5" height="3.5" fill-opacity="0.75"/><rect x="854.5" y="185.4" width="3.0" height="3.5" fill-opacity="0.75"/><rect x="862.0" y="182.4" width="1.5" height="3.5" fill-opacity="0.85"/><rect x="864.5" y="184.4" width="1.5" height="3.5" fill-opacity="0.75"/><rect x="866.5" y="184.4" width="1.5" height="3.5" fill-opacity="0.95"/><rect x="871.5" y="185.4" width="1.5" height="3.5" fill-opacity="0.75"/><rect x="874.0" y="184.9" width="1.5" height="3.5" fill-opacity="0.95"/><rect x="880.5" y="184.9" width="1.5" height="3.5" fill-opacity="0.95"/><rect x="883.0" y="184.9" width="2.0" height="3.5" fill-opacity="0.95"/><rect x="890.0" y="182.9" width="2.0" height="3.5" fill-opacity="0.85"/><rect x="893.0" y="183.9" width="2.0" height="3.5" fill-opacity="0.85"/><rect x="916.0" y="183.9" width="2.0" height="3.5" fill-opacity="0.95"/><rect x="919.0" y="185.4" width="3.0" height="3.5" fill-opacity="0.75"/><rect x="962.0" y="186.4" width="1.5" height="3.5" fill-opacity="0.85"/><rect x="964.5" y="185.9" width="2.0" height="3.5" fill-opacity="0.95"/><rect x="967.5" y="185.9" width="2.0" height="3.5" fill-opacity="0.95"/><rect x="972.0" y="182.4" width="3.0" height="3.5" fill-opacity="0.85"/><rect x="976.0" y="183.9" width="3.0" height="3.5" fill-opacity="0.95"/><rect x="980.0" y="184.4" width="3.0" height="3.5" fill-opacity="0.95"/><rect x="983.5" y="182.4" width="3.0" height="3.5" fill-opacity="0.85"/><rect x="987.5" y="183.9" width="2.0" height="3.5" fill-opacity="0.95"/><rect x="993.0" y="186.9" width="2.0" height="3.5" fill-opacity="0.85"/><rect x="996.0" y="184.9" width="2.0" height="3.5" fill-opacity="0.95"/><rect x="999.0" y="186.4" width="2.0" height="3.5" fill-opacity="0.75"/><rect x="1004.0" y="185.9" width="2.0" height="3.5" fill-opacity="0.75"/><rect x="1007.0" y="185.4" width="2.0" height="3.5" fill-opacity="0.95"/><rect x="1010.0" y="185.4" width="2.0" height="3.5" fill-opacity="0.85"/><rect x="1013.0" y="184.9" width="2.0" height="3.5" fill-opacity="0.75"/><rect x="1016.0" y="185.9" width="2.0" height="3.5" fill-opacity="0.85"/><rect x="1020.5" y="183.4" width="2.0" height="3.5" fill-opacity="0.95"/><rect x="1023.0" y="183.4" width="2.0" height="3.5" fill-opacity="0.85"/><rect x="1026.0" y="183.4" width="1.5" height="3.5" fill-opacity="0.95"/><rect x="1028.5" y="182.4" width="2.0" height="3.5" fill-opacity="0.75"/><rect x="1033.5" y="183.9" width="3.0" height="3.5" fill-opacity="0.95"/><rect x="1037.0" y="183.9" width="2.0" height="3.5" fill-opacity="0.85"/><rect x="1040.0" y="185.4" width="2.0" height="3.5" fill-opacity="0.95"/><rect x="1044.0" y="183.9" width="1.5" height="3.5" fill-opacity="0.75"/><rect x="1046.5" y="185.9" width="2.0" height="3.5" fill-opacity="0.85"/><rect x="1049.0" y="184.9" width="2.0" height="3.5" fill-opacity="0.75"/><rect x="1052.0" y="185.4" width="3.0" height="3.5" fill-opacity="0.75"/><rect x="1055.5" y="185.9" width="3.0" height="3.5" fill-opacity="0.95"/><rect x="1061.0" y="184.9" width="3.0" height="3.5" fill-opacity="0.75"/><rect x="1065.0" y="183.9" width="2.0" height="3.5" fill-opacity="0.85"/><rect x="1068.0" y="184.9" width="2.0" height="3.5" fill-opacity="0.75"/><rect x="1071.0" y="182.9" width="2.0" height="3.5" fill-opacity="0.75"/><rect x="1074.0" y="184.4" width="2.0" height="3.5" fill-opacity="0.95"/><rect x="1078.5" y="184.9" width="3.0" height="3.5" fill-opacity="0.85"/><rect x="1082.5" y="184.9" width="3.0" height="3.5" fill-opacity="0.95"/><rect x="1086.0" y="183.9" width="1.5" height="3.5" fill-opacity="0.95"/><rect x="1090.5" y="183.9" width="3.0" height="3.5" fill-opacity="0.75"/><rect x="1094.0" y="183.9" width="3.0" height="3.5" fill-opacity="0.85"/><rect x="1097.5" y="184.4" width="1.5" height="3.5" fill-opacity="0.95"/><rect x="1099.5" y="182.9" width="3.0" height="3.5" fill-opacity="0.75"/><rect x="1103.5" y="182.9" width="2.0" height="3.5" fill-opacity="0.85"/><rect x="1108.5" y="185.4" width="2.0" height="3.5" fill-opacity="0.95"/><rect x="1111.0" y="184.9" width="1.5" height="3.5" fill-opacity="0.75"/><rect x="1113.0" y="185.4" width="3.0" height="3.5" fill-opacity="0.95"/><rect x="1119.0" y="182.9" width="1.5" height="3.5" fill-opacity="0.95"/><rect x="1121.5" y="182.9" width="3.0" height="3.5" fill-opacity="0.75"/><rect x="1125.5" y="184.4" width="1.5" height="3.5" fill-opacity="0.85"/><rect x="1128.0" y="182.9" width="2.0" height="3.5" fill-opacity="0.75"/><rect x="1133.0" y="186.4" width="2.0" height="3.5" fill-opacity="0.85"/><rect x="1136.0" y="186.9" width="2.0" height="3.5" fill-opacity="0.95"/><rect x="1139.0" y="186.4" width="3.0" height="3.5" fill-opacity="0.85"/><rect x="1143.0" y="185.9" width="2.0" height="3.5" fill-opacity="0.85"/><rect x="1148.0" y="185.4" width="2.0" height="3.5" fill-opacity="0.75"/><rect x="1151.0" y="184.9" width="2.0" height="3.5" fill-opacity="0.95"/><rect x="1154.0" y="185.9" width="2.0" height="3.5" fill-opacity="0.85"/><rect x="1156.5" y="183.9" width="3.0" height="3.5" fill-opacity="0.95"/><rect x="1162.5" y="184.9" width="1.5" height="3.5" fill-opacity="0.95"/><rect x="1165.0" y="185.9" width="1.5" height="3.5" fill-opacity="0.75"/><rect x="1167.5" y="185.4" width="2.0" height="3.5" fill-opacity="0.95"/><rect x="80.0" y="229.1" width="4.0" height="7.0" fill-opacity="0.92"/><rect x="101.0" y="229.1" width="2.0" height="7.0" fill-opacity="0.85"/><rect x="104.0" y="229.6" width="3.0" height="7.0" fill-opacity="0.85"/><rect x="205.0" y="229.1" width="2.0" height="7.0"/><rect x="209.0" y="229.1" width="2.0" height="7.0"/><rect x="226.0" y="229.1" width="3.0" height="7.0"/><rect x="230.5" y="229.6" width="2.0" height="7.0" fill-opacity="0.85"/><rect x="247.0" y="229.1" width="5.0" height="7.0"/><rect x="253.0" y="229.1" width="2.0" height="7.0" fill-opacity="0.85"/><rect x="268.0" y="229.1" width="2.0" height="7.0" fill-opacity="0.85"/><rect x="271.5" y="229.1" width="5.0" height="7.0"/><rect x="278.5" y="229.1" width="2.0" height="7.0"/><rect x="281.5" y="229.1" width="2.0" height="7.0" fill-opacity="0.92"/><rect x="285.0" y="229.6" width="1.0" height="7.0" fill-opacity="0.92"/><rect x="457.0" y="229.1" width="3.0" height="7.0" fill-opacity="0.92"/><rect x="461.0" y="229.6" width="2.0" height="7.0" fill-opacity="0.85"/><rect x="478.0" y="229.1" width="2.0" height="7.0" fill-opacity="0.92"/><rect x="481.0" y="229.1" width="5.0" height="7.0" fill-opacity="0.85"/><rect x="498.0" y="229.1" width="2.0" height="7.0" fill-opacity="0.85"/><rect x="501.0" y="229.1" width="3.0" height="7.0"/><rect x="506.0" y="229.1" width="1.0" height="7.0" fill-opacity="0.92"/><rect x="520.0" y="229.1" width="5.0" height="7.0"/><rect x="526.0" y="229.1" width="2.0" height="7.0" fill-opacity="0.92"/><rect x="561.0" y="229.1" width="3.0" height="7.0" fill-opacity="0.85"/><rect x="566.0" y="229.1" width="3.0" height="7.0"/><rect x="570.0" y="229.1" width="2.0" height="7.0" fill-opacity="0.92"/><rect x="573.5" y="229.6" width="2.0" height="7.0" fill-opacity="0.92"/><rect x="576.5" y="229.6" width="3.5" height="7.0" fill-opacity="0.85"/><rect x="619.0" y="229.1" width="3.0" height="7.0" fill-opacity="0.85"/><rect x="623.5" y="229.1" width="2.0" height="7.0" fill-opacity="0.92"/><rect x="627.0" y="229.1" width="3.0" height="7.0" fill-opacity="0.85"/><rect x="631.5" y="229.1" width="5.0" height="7.0" fill-opacity="0.85"/><rect x="637.5" y="229.1" width="3.0" height="7.0"/><rect x="642.5" y="229.6" width="2.0" height="7.0"/><rect x="645.5" y="229.6" width="2.0" height="7.0" fill-opacity="0.92"/><rect x="649.5" y="229.1" width="2.0" height="7.0" fill-opacity="0.85"/><rect x="652.5" y="229.6" width="3.0" height="7.0"/><rect x="656.5" y="229.6" width="3.0" height="7.0" fill-opacity="0.92"/><rect x="660.5" y="229.6" width="3.0" height="7.0"/><rect x="664.5" y="229.1" width="3.0" height="7.0"/><rect x="668.5" y="229.1" width="3.0" height="7.0"/><rect x="673.5" y="229.1" width="3.0" height="7.0" fill-opacity="0.92"/><rect x="677.5" y="229.1" width="2.0" height="7.0" fill-opacity="0.85"/><rect x="680.5" y="229.1" width="3.0" height="7.0"/><rect x="684.5" y="229.1" width="3.0" height="7.0" fill-opacity="0.85"/><rect x="688.5" y="229.6" width="4.0" height="7.0" fill-opacity="0.85"/><rect x="694.0" y="229.1" width="3.0" height="7.0" fill-opacity="0.92"/><rect x="699.0" y="229.1" width="4.0" height="7.0" fill-opacity="0.85"/><rect x="704.0" y="229.6" width="5.0" height="7.0"/><rect x="816.0" y="229.1" width="2.0" height="7.0" fill-opacity="0.85"/><rect x="819.0" y="229.6" width="3.0" height="7.0"/><rect x="836.0" y="229.6" width="5.0" height="7.0" fill-opacity="0.85"/><rect x="842.0" y="229.1" width="2.0" height="7.0" fill-opacity="0.92"/><rect x="857.0" y="229.1" width="3.0" height="7.0"/><rect x="861.0" y="229.6" width="3.0" height="7.0" fill-opacity="0.85"/><rect x="879.0" y="229.6" width="5.0" height="7.0" fill-opacity="0.85"/><rect x="920.0" y="229.6" width="2.0" height="7.0"/><rect x="923.0" y="229.1" width="2.0" height="7.0"/><rect x="926.5" y="229.1" width="2.0" height="7.0" fill-opacity="0.85"/><rect x="929.5" y="229.1" width="3.0" height="7.0" fill-opacity="0.85"/><rect x="934.5" y="229.1" width="3.5" height="7.0" fill-opacity="0.85"/><rect x="976.0" y="229.1" width="3.0" height="7.0" fill-opacity="0.85"/><rect x="980.0" y="229.1" width="2.0" height="7.0"/><rect x="983.0" y="229.1" width="2.0" height="7.0" fill-opacity="0.85"/><rect x="986.0" y="229.1" width="2.0" height="7.0"/><rect x="989.5" y="229.1" width="5.0" height="7.0" fill-opacity="0.85"/><rect x="996.5" y="229.1" width="2.0" height="7.0"/><rect x="1000.0" y="229.6" width="2.0" height="7.0"/><rect x="1003.0" y="229.6" width="2.0" height="7.0" fill-opacity="0.85"/><rect x="1006.5" y="229.1" width="3.0" height="7.0"/><rect x="1011.0" y="229.1" width="4.0" height="7.0" fill-opacity="0.92"/><rect x="1017.0" y="229.1" width="2.0" height="7.0"/><rect x="1020.5" y="229.6" width="2.0" height="7.0" fill-opacity="0.92"/><rect x="1023.5" y="229.1" width="3.0" height="7.0"/><rect x="1028.0" y="229.6" width="5.0" height="7.0"/><rect x="1034.0" y="229.1" width="2.0" height="7.0" fill-opacity="0.85"/><rect x="1037.0" y="229.6" width="2.0" height="7.0" fill-opacity="0.92"/><rect x="1040.0" y="229.6" width="3.0" height="7.0"/><rect x="1044.0" y="229.6" width="3.0" height="7.0" fill-opacity="0.92"/><rect x="1048.5" y="229.1" width="3.0" height="7.0" fill-opacity="0.85"/><rect x="1052.5" y="229.6" width="5.0" height="7.0" fill-opacity="0.92"/><rect x="1059.5" y="229.1" width="3.0" height="7.0" fill-opacity="0.92"/><rect x="1064.5" y="229.1" width="4.0" height="7.0" fill-opacity="0.85"/><rect x="1070.5" y="229.1" width="3.0" height="7.0"/><rect x="1075.0" y="229.1" width="3.0" height="7.0" fill-opacity="0.92"/><rect x="1079.0" y="229.1" width="2.0" height="7.0" fill-opacity="0.92"/><rect x="1083.0" y="229.1" width="4.0" height="7.0" fill-opacity="0.92"/><rect x="1088.5" y="229.1" width="2.0" height="7.0" fill-opacity="0.85"/><rect x="1092.5" y="229.6" width="3.0" height="7.0"/><rect x="1096.5" y="229.1" width="2.0" height="7.0"/><rect x="1099.5" y="229.1" width="3.0" height="7.0" fill-opacity="0.92"/><rect x="1104.0" y="229.1" width="3.0" height="7.0" fill-opacity="0.92"/><rect x="1108.0" y="229.1" width="2.0" height="7.0"/><rect x="1112.0" y="229.1" width="3.0" height="7.0" fill-opacity="0.92"/><rect x="1116.0" y="229.1" width="2.0" height="7.0"/><rect x="1119.0" y="229.1" width="2.0" height="7.0" fill-opacity="0.85"/><rect x="1122.0" y="229.6" width="3.0" height="7.0"/><rect x="1126.5" y="229.1" width="5.0" height="7.0"/><rect x="1132.5" y="229.6" width="4.0" height="7.0"/><rect x="1138.5" y="229.1" width="2.0" height="7.0"/><rect x="1142.5" y="229.6" width="2.0" height="7.0"/><rect x="1146.0" y="229.1" width="3.0" height="7.0" fill-opacity="0.92"/><rect x="367.0" y="229.1" width="3.0" height="7.0" fill-opacity="0.50"/><rect x="541.0" y="284.8" width="63.0" height="3.0" fill-opacity="0.45"/><rect x="541.0" y="284.8" width="2.0" height="3.0" fill-opacity="0.55"/><rect x="554.0" y="284.8" width="7.0" height="3.0" fill-opacity="0.55"/><rect x="577.0" y="284.8" width="7.0" height="3.0" fill-opacity="0.55"/><rect x="600.0" y="284.8" width="4.0" height="3.0" fill-opacity="0.55"/><rect x="897.0" y="284.8" width="64.0" height="3.0" fill-opacity="0.45"/><rect x="897.0" y="284.8" width="5.0" height="3.0" fill-opacity="0.55"/><rect x="920.0" y="284.8" width="6.0" height="3.0" fill-opacity="0.55"/><rect x="943.0" y="284.8" width="7.0" height="3.0" fill-opacity="0.55"/><rect x="287.0" y="380.5" width="10.0" height="6.6"/><rect x="288.0" y="379.7" width="8.0" height="1.0" fill-opacity="0.60"/><rect x="297.0" y="377.9" width="11.0" height="9.2"/><rect x="539.0" y="380.5" width="10.0" height="6.6"/><rect x="540.0" y="379.7" width="8.0" height="1.0" fill-opacity="0.60"/><rect x="549.0" y="377.9" width="11.0" height="9.2"/><rect x="897.0" y="380.5" width="10.0" height="6.6"/><rect x="898.0" y="379.7" width="8.0" height="1.0" fill-opacity="0.60"/><rect x="907.0" y="377.9" width="11.0" height="9.2"/><rect x="328.4" y="380.2" width="10.5" height="6.9"/><rect x="329.4" y="379.4" width="8.0" height="1.0" fill-opacity="0.60"/><rect x="339.4" y="377.7" width="10.5" height="9.4"/><rect x="351.4" y="381.7" width="2.0" height="4.8" fill-opacity="0.80"/><rect x="354.9" y="384.0" width="2.0" height="2.6" fill-opacity="0.80"/><rect x="357.9" y="381.4" width="2.0" height="5.0" fill-opacity="0.80"/><rect x="359.9" y="380.7" width="5.5" height="2.5" fill-opacity="0.80"/><rect x="363.4" y="380.7" width="2.0" height="5.5" fill-opacity="0.80"/><rect x="580.5" y="380.2" width="10.5" height="6.9"/><rect x="581.5" y="379.4" width="8.0" height="1.0" fill-opacity="0.60"/><rect x="591.5" y="377.7" width="10.5" height="9.4"/><rect x="603.5" y="381.7" width="2.0" height="4.8" fill-opacity="0.80"/><rect x="607.0" y="384.0" width="2.0" height="2.6" fill-opacity="0.80"/><rect x="610.0" y="381.4" width="2.0" height="5.0" fill-opacity="0.80"/><rect x="612.0" y="380.7" width="5.5" height="2.5" fill-opacity="0.80"/><rect x="615.5" y="380.7" width="2.0" height="5.5" fill-opacity="0.80"/><rect x="938.4" y="380.2" width="10.5" height="6.9"/><rect x="939.4" y="379.4" width="8.0" height="1.0" fill-opacity="0.60"/><rect x="949.4" y="377.7" width="10.5" height="9.4"/><rect x="961.4" y="381.7" width="2.0" height="4.8" fill-opacity="0.80"/><rect x="964.9" y="384.0" width="2.0" height="2.6" fill-opacity="0.80"/><rect x="967.9" y="381.4" width="2.0" height="5.0" fill-opacity="0.80"/><rect x="969.9" y="380.7" width="5.5" height="2.5" fill-opacity="0.80"/><rect x="973.4" y="380.7" width="2.0" height="5.5" fill-opacity="0.80"/><rect x="25.0" y="438.5" width="4.0" height="3.0" fill-opacity="0.90"/><rect x="30.0" y="435.6" width="1.8" height="6.0" fill-opacity="0.90"/><rect x="34.0" y="437.6" width="1.8" height="4.0" fill-opacity="0.90"/><rect x="38.1" y="435.6" width="1.5" height="6.0" fill-opacity="0.55"/><rect x="42.1" y="437.6" width="1.8" height="4.0" fill-opacity="0.55"/><rect x="46.2" y="435.6" width="1.5" height="6.0" fill-opacity="0.75"/><rect x="50.2" y="436.6" width="1.8" height="5.0" fill-opacity="0.90"/><rect x="54.3" y="437.6" width="1.5" height="4.0" fill-opacity="0.90"/><rect x="58.3" y="436.6" width="1.3" height="5.0" fill-opacity="0.75"/><rect x="62.4" y="436.6" width="1.3" height="5.0" fill-opacity="0.55"/><rect x="66.4" y="435.6" width="1.3" height="6.0" fill-opacity="0.75"/><rect x="70.5" y="436.6" width="1.5" height="5.0" fill-opacity="0.55"/><rect x="74.5" y="435.6" width="1.8" height="6.0" fill-opacity="0.90"/><rect x="78.6" y="437.6" width="1.8" height="4.0" fill-opacity="0.90"/><rect x="82.6" y="435.6" width="1.8" height="6.0" fill-opacity="0.75"/><rect x="86.7" y="435.6" width="1.5" height="6.0" fill-opacity="0.65"/><rect x="90.7" y="435.6" width="1.3" height="6.0" fill-opacity="0.75"/><rect x="94.8" y="436.6" width="1.3" height="5.0" fill-opacity="0.55"/><rect x="98.8" y="436.6" width="1.5" height="5.0" fill-opacity="0.65"/><rect x="102.9" y="435.6" width="1.3" height="6.0" fill-opacity="0.75"/><rect x="106.9" y="435.6" width="1.5" height="6.0" fill-opacity="0.65"/><rect x="111.0" y="435.6" width="1.5" height="6.0" fill-opacity="0.90"/><rect x="115.0" y="436.6" width="1.8" height="5.0" fill-opacity="0.75"/><rect x="119.1" y="435.6" width="1.5" height="6.0" fill-opacity="0.55"/><rect x="123.1" y="435.6" width="1.5" height="6.0" fill-opacity="0.90"/><rect x="127.2" y="435.6" width="1.5" height="6.0" fill-opacity="0.90"/><rect x="131.2" y="435.6" width="1.3" height="6.0" fill-opacity="0.65"/><rect x="135.3" y="435.6" width="1.8" height="6.0" fill-opacity="0.90"/><rect x="139.3" y="436.6" width="1.5" height="5.0" fill-opacity="0.55"/><rect x="143.4" y="436.6" width="1.5" height="5.0" fill-opacity="0.90"/><rect x="147.4" y="435.6" width="1.3" height="6.0" fill-opacity="0.75"/><rect x="151.5" y="435.6" width="1.5" height="6.0" fill-opacity="0.90"/><rect x="155.6" y="435.6" width="1.8" height="6.0" fill-opacity="0.55"/><rect x="159.6" y="435.6" width="1.5" height="6.0" fill-opacity="0.55"/><rect x="163.7" y="437.6" width="1.8" height="4.0" fill-opacity="0.75"/><rect x="167.7" y="435.6" width="1.8" height="6.0" fill-opacity="0.75"/><rect x="171.8" y="435.6" width="1.3" height="6.0" fill-opacity="0.55"/><rect x="175.8" y="437.6" width="1.8" height="4.0" fill-opacity="0.90"/><rect x="179.9" y="437.6" width="1.5" height="4.0" fill-opacity="0.65"/><rect x="183.9" y="436.6" width="1.8" height="5.0" fill-opacity="0.55"/><rect x="188.0" y="435.6" width="1.5" height="6.0" fill-opacity="0.75"/><rect x="192.0" y="435.6" width="1.5" height="6.0" fill-opacity="0.90"/><rect x="196.1" y="435.6" width="1.5" height="6.0" fill-opacity="0.65"/><rect x="200.1" y="436.6" width="1.8" height="5.0" fill-opacity="0.90"/><rect x="204.2" y="435.6" width="1.3" height="6.0" fill-opacity="0.65"/><rect x="208.2" y="435.6" width="1.8" height="6.0" fill-opacity="0.55"/><rect x="212.3" y="435.6" width="1.3" height="6.0" fill-opacity="0.55"/><rect x="216.3" y="436.6" width="1.8" height="5.0" fill-opacity="0.90"/><rect x="220.4" y="435.6" width="1.3" height="6.0" fill-opacity="0.75"/><rect x="224.4" y="436.6" width="1.3" height="5.0" fill-opacity="0.65"/><rect x="228.5" y="436.6" width="1.8" height="5.0" fill-opacity="0.55"/><rect x="232.5" y="435.6" width="1.3" height="6.0" fill-opacity="0.90"/><rect x="236.6" y="435.6" width="1.3" height="6.0" fill-opacity="0.90"/><rect x="240.6" y="435.6" width="1.8" height="6.0" fill-opacity="0.55"/><rect x="244.7" y="435.6" width="1.8" height="6.0" fill-opacity="0.65"/><rect x="248.7" y="436.6" width="1.5" height="5.0" fill-opacity="0.55"/><rect x="252.8" y="435.6" width="1.8" height="6.0" fill-opacity="0.55"/><rect x="256.8" y="435.6" width="1.3" height="6.0" fill-opacity="0.55"/><rect x="260.9" y="437.6" width="1.5" height="4.0" fill-opacity="0.65"/><rect x="264.9" y="437.6" width="1.5" height="4.0" fill-opacity="0.65"/><rect x="269.0" y="435.6" width="1.5" height="6.0" fill-opacity="0.55"/><rect x="273.0" y="435.6" width="1.8" height="6.0" fill-opacity="0.55"/><rect x="277.1" y="437.6" width="1.8" height="4.0" fill-opacity="0.90"/><rect x="281.1" y="437.6" width="1.5" height="4.0" fill-opacity="0.65"/><rect x="285.2" y="435.6" width="1.8" height="6.0" fill-opacity="0.75"/><rect x="289.2" y="435.6" width="1.8" height="6.0" fill-opacity="0.65"/><rect x="293.3" y="436.6" width="1.8" height="5.0" fill-opacity="0.65"/><rect x="297.3" y="435.6" width="1.8" height="6.0" fill-opacity="0.55"/><rect x="301.4" y="436.6" width="1.3" height="5.0" fill-opacity="0.55"/><rect x="305.4" y="435.6" width="1.5" height="6.0" fill-opacity="0.75"/><rect x="309.5" y="437.6" width="1.8" height="4.0" fill-opacity="0.75"/><rect x="313.5" y="437.6" width="1.8" height="4.0" fill-opacity="0.55"/><rect x="317.6" y="435.6" width="1.5" height="6.0" fill-opacity="0.90"/><rect x="328.0" y="436.6" width="1.8" height="5.0" fill-opacity="0.55"/><rect x="332.1" y="435.6" width="1.8" height="6.0" fill-opacity="0.75"/><rect x="336.1" y="435.6" width="1.3" height="6.0" fill-opacity="0.90"/><rect x="340.2" y="436.6" width="1.5" height="5.0" fill-opacity="0.90"/><rect x="344.2" y="435.6" width="1.3" height="6.0" fill-opacity="0.75"/><rect x="348.3" y="436.6" width="1.3" height="5.0" fill-opacity="0.90"/><rect x="367.0" y="436.6" width="1.5" height="5.0" fill-opacity="0.65"/><rect x="371.1" y="437.6" width="1.8" height="4.0" fill-opacity="0.55"/><rect x="375.1" y="435.6" width="1.3" height="6.0" fill-opacity="0.65"/><rect x="379.2" y="435.6" width="1.3" height="6.0" fill-opacity="0.75"/><rect x="383.2" y="437.6" width="1.8" height="4.0" fill-opacity="0.55"/><rect x="387.3" y="437.6" width="1.5" height="4.0" fill-opacity="0.65"/><rect x="391.3" y="435.6" width="1.3" height="6.0" fill-opacity="0.75"/><rect x="395.4" y="435.6" width="1.8" height="6.0" fill-opacity="0.65"/><rect x="399.4" y="435.6" width="1.5" height="6.0" fill-opacity="0.75"/><rect x="403.5" y="437.6" width="1.3" height="4.0" fill-opacity="0.65"/><rect x="407.5" y="435.6" width="1.5" height="6.0" fill-opacity="0.55"/><rect x="411.6" y="435.6" width="1.3" height="6.0" fill-opacity="0.75"/><rect x="415.6" y="437.6" width="1.3" height="4.0" fill-opacity="0.75"/><rect x="419.7" y="435.6" width="1.5" height="6.0" fill-opacity="0.55"/><rect x="423.7" y="435.6" width="1.5" height="6.0" fill-opacity="0.90"/><rect x="427.8" y="436.6" width="1.3" height="5.0" fill-opacity="0.75"/><rect x="431.8" y="435.6" width="1.3" height="6.0" fill-opacity="0.75"/><rect x="435.9" y="435.6" width="1.8" height="6.0" fill-opacity="0.55"/><rect x="439.9" y="436.6" width="1.8" height="5.0" fill-opacity="0.75"/><rect x="444.0" y="435.6" width="1.8" height="6.0" fill-opacity="0.90"/><rect x="448.0" y="436.6" width="1.5" height="5.0" fill-opacity="0.65"/><rect x="452.1" y="436.6" width="1.3" height="5.0" fill-opacity="0.55"/><rect x="456.1" y="436.6" width="1.8" height="5.0" fill-opacity="0.90"/><rect x="460.2" y="437.6" width="1.3" height="4.0" fill-opacity="0.55"/><rect x="464.2" y="435.6" width="1.3" height="6.0" fill-opacity="0.65"/><rect x="468.3" y="437.6" width="1.5" height="4.0" fill-opacity="0.75"/><rect x="472.3" y="435.6" width="1.5" height="6.0" fill-opacity="0.65"/><rect x="476.4" y="437.6" width="1.3" height="4.0" fill-opacity="0.65"/><rect x="480.4" y="435.6" width="1.5" height="6.0" fill-opacity="0.55"/><rect x="484.5" y="437.6" width="1.8" height="4.0" fill-opacity="0.65"/><rect x="488.5" y="436.6" width="1.5" height="5.0" fill-opacity="0.90"/><rect x="492.6" y="435.6" width="1.3" height="6.0" fill-opacity="0.55"/><rect x="496.6" y="435.6" width="1.3" height="6.0" fill-opacity="0.90"/><rect x="500.7" y="436.6" width="1.8" height="5.0" fill-opacity="0.90"/><rect x="504.7" y="435.6" width="1.8" height="6.0" fill-opacity="0.65"/><rect x="508.8" y="437.6" width="1.5" height="4.0" fill-opacity="0.90"/><rect x="512.8" y="437.6" width="1.8" height="4.0" fill-opacity="0.65"/><rect x="516.9" y="436.6" width="1.3" height="5.0" fill-opacity="0.90"/><rect x="520.9" y="436.6" width="1.8" height="5.0" fill-opacity="0.55"/><rect x="525.0" y="436.6" width="1.3" height="5.0" fill-opacity="0.65"/><rect x="529.0" y="437.6" width="1.3" height="4.0" fill-opacity="0.90"/><rect x="533.1" y="437.6" width="1.5" height="4.0" fill-opacity="0.65"/><rect x="537.1" y="436.6" width="1.8" height="5.0" fill-opacity="0.55"/><rect x="541.2" y="435.6" width="1.5" height="6.0" fill-opacity="0.55"/><rect x="545.2" y="436.6" width="1.5" height="5.0" fill-opacity="0.55"/><rect x="549.2" y="435.6" width="1.3" height="6.0" fill-opacity="0.55"/><rect x="553.3" y="436.6" width="1.3" height="5.0" fill-opacity="0.65"/><rect x="557.3" y="435.6" width="1.3" height="6.0" fill-opacity="0.90"/><rect x="561.4" y="437.6" width="1.3" height="4.0" fill-opacity="0.55"/><rect x="565.4" y="437.6" width="1.8" height="4.0" fill-opacity="0.55"/><rect x="569.5" y="437.6" width="1.8" height="4.0" fill-opacity="0.75"/><rect x="573.5" y="435.6" width="1.5" height="6.0" fill-opacity="0.55"/><rect x="577.6" y="436.6" width="1.3" height="5.0" fill-opacity="0.65"/><rect x="581.6" y="435.6" width="1.3" height="6.0" fill-opacity="0.55"/><rect x="585.7" y="436.6" width="1.8" height="5.0" fill-opacity="0.90"/><rect x="589.7" y="437.6" width="1.8" height="4.0" fill-opacity="0.55"/><rect x="593.8" y="435.6" width="1.8" height="6.0" fill-opacity="0.55"/><rect x="597.8" y="437.6" width="1.8" height="4.0" fill-opacity="0.65"/><rect x="621.0" y="437.6" width="1.3" height="4.0" fill-opacity="0.75"/><rect x="625.0" y="435.6" width="1.5" height="6.0" fill-opacity="0.75"/><rect x="629.1" y="435.6" width="1.3" height="6.0" fill-opacity="0.90"/><rect x="633.1" y="435.6" width="1.3" height="6.0" fill-opacity="0.55"/><rect x="637.2" y="437.6" width="1.3" height="4.0" fill-opacity="0.55"/><rect x="641.2" y="437.6" width="1.8" height="4.0" fill-opacity="0.65"/><rect x="650.0" y="435.6" width="1.5" height="6.0" fill-opacity="0.90"/><rect x="654.0" y="436.6" width="1.8" height="5.0" fill-opacity="0.55"/><rect x="658.1" y="437.6" width="1.3" height="4.0" fill-opacity="0.55"/><rect x="662.1" y="436.6" width="1.5" height="5.0" fill-opacity="0.55"/><rect x="666.2" y="436.6" width="1.8" height="5.0" fill-opacity="0.75"/><rect x="670.2" y="435.6" width="1.5" height="6.0" fill-opacity="0.65"/><rect x="674.3" y="435.6" width="1.5" height="6.0" fill-opacity="0.75"/><rect x="678.3" y="437.6" width="1.5" height="4.0" fill-opacity="0.90"/><rect x="682.4" y="437.6" width="1.3" height="4.0" fill-opacity="0.90"/><rect x="686.4" y="436.6" width="1.8" height="5.0" fill-opacity="0.90"/><rect x="690.5" y="435.6" width="1.5" height="6.0" fill-opacity="0.65"/><rect x="694.5" y="437.6" width="1.5" height="4.0" fill-opacity="0.55"/><rect x="698.6" y="435.6" width="1.3" height="6.0" fill-opacity="0.75"/><rect x="702.6" y="435.6" width="1.3" height="6.0" fill-opacity="0.65"/><rect x="706.7" y="435.6" width="1.3" height="6.0" fill-opacity="0.65"/><rect x="737.0" y="437.6" width="1.3" height="4.0" fill-opacity="0.75"/><rect x="741.0" y="435.6" width="1.8" height="6.0" fill-opacity="0.75"/><rect x="745.1" y="435.6" width="1.3" height="6.0" fill-opacity="0.55"/><rect x="749.1" y="435.6" width="1.3" height="6.0" fill-opacity="0.65"/><rect x="753.2" y="437.6" width="1.8" height="4.0" fill-opacity="0.65"/><rect x="757.2" y="435.6" width="1.8" height="6.0" fill-opacity="0.55"/><rect x="761.3" y="436.6" width="1.3" height="5.0" fill-opacity="0.75"/><rect x="765.3" y="437.6" width="1.8" height="4.0" fill-opacity="0.75"/><rect x="769.4" y="435.6" width="1.8" height="6.0" fill-opacity="0.55"/><rect x="773.4" y="436.6" width="1.8" height="5.0" fill-opacity="0.90"/><rect x="777.5" y="436.6" width="1.8" height="5.0" fill-opacity="0.75"/><rect x="781.5" y="435.6" width="1.3" height="6.0" fill-opacity="0.75"/><rect x="785.6" y="435.6" width="1.3" height="6.0" fill-opacity="0.55"/><rect x="789.6" y="436.6" width="1.8" height="5.0" fill-opacity="0.75"/><rect x="793.7" y="436.6" width="1.8" height="5.0" fill-opacity="0.55"/><rect x="797.7" y="437.6" width="1.8" height="4.0" fill-opacity="0.90"/><rect x="801.8" y="435.6" width="1.3" height="6.0" fill-opacity="0.55"/><rect x="805.8" y="437.6" width="1.8" height="4.0" fill-opacity="0.55"/><rect x="809.9" y="437.6" width="1.5" height="4.0" fill-opacity="0.55"/><rect x="813.9" y="436.6" width="1.8" height="5.0" fill-opacity="0.55"/><rect x="818.0" y="435.6" width="1.8" height="6.0" fill-opacity="0.75"/><rect x="822.0" y="435.6" width="1.3" height="6.0" fill-opacity="0.55"/><rect x="826.1" y="435.6" width="1.5" height="6.0" fill-opacity="0.90"/><rect x="830.1" y="435.6" width="1.8" height="6.0" fill-opacity="0.65"/><rect x="834.2" y="435.6" width="1.8" height="6.0" fill-opacity="0.55"/><rect x="838.2" y="435.6" width="1.5" height="6.0" fill-opacity="0.75"/><rect x="842.3" y="436.6" width="1.3" height="5.0" fill-opacity="0.90"/><rect x="846.3" y="436.6" width="1.3" height="5.0" fill-opacity="0.65"/><rect x="850.4" y="435.6" width="1.8" height="6.0" fill-opacity="0.75"/><rect x="854.4" y="435.6" width="1.8" height="6.0" fill-opacity="0.55"/><rect x="858.5" y="436.6" width="1.3" height="5.0" fill-opacity="0.55"/><rect x="862.5" y="436.6" width="1.8" height="5.0" fill-opacity="0.75"/><rect x="866.6" y="435.6" width="1.3" height="6.0" fill-opacity="0.55"/><rect x="870.6" y="436.6" width="1.5" height="5.0" fill-opacity="0.55"/><rect x="874.7" y="437.6" width="1.5" height="4.0" fill-opacity="0.75"/><rect x="878.7" y="437.6" width="1.8" height="4.0" fill-opacity="0.65"/><rect x="882.8" y="437.6" width="1.3" height="4.0" fill-opacity="0.75"/><rect x="886.8" y="437.6" width="1.5" height="4.0" fill-opacity="0.65"/><rect x="890.9" y="435.6" width="1.5" height="6.0" fill-opacity="0.65"/><rect x="894.9" y="436.6" width="1.5" height="5.0" fill-opacity="0.75"/><rect x="899.0" y="435.6" width="1.5" height="6.0" fill-opacity="0.65"/><rect x="903.0" y="437.6" width="1.3" height="4.0" fill-opacity="0.65"/><rect x="907.1" y="435.6" width="1.5" height="6.0" fill-opacity="0.55"/><rect x="911.1" y="436.6" width="1.8" height="5.0" fill-opacity="0.65"/><rect x="915.2" y="436.6" width="1.5" height="5.0" fill-opacity="0.75"/><rect x="919.2" y="436.6" width="1.8" height="5.0" fill-opacity="0.90"/><rect x="923.3" y="435.6" width="1.3" height="6.0" fill-opacity="0.55"/><rect x="927.3" y="437.6" width="1.8" height="4.0" fill-opacity="0.90"/><rect x="931.4" y="435.6" width="1.3" height="6.0" fill-opacity="0.75"/><rect x="935.4" y="437.6" width="1.5" height="4.0" fill-opacity="0.90"/><rect x="939.5" y="435.6" width="1.3" height="6.0" fill-opacity="0.55"/><rect x="943.5" y="435.6" width="1.8" height="6.0" fill-opacity="0.90"/><rect x="947.6" y="437.6" width="1.5" height="4.0" fill-opacity="0.55"/><rect x="951.6" y="435.6" width="1.5" height="6.0" fill-opacity="0.65"/><rect x="955.7" y="436.6" width="1.5" height="5.0" fill-opacity="0.90"/><rect x="959.7" y="437.6" width="1.3" height="4.0" fill-opacity="0.65"/><rect x="976.0" y="437.6" width="1.5" height="4.0" fill-opacity="0.75"/><rect x="980.0" y="435.6" width="1.5" height="6.0" fill-opacity="0.65"/><rect x="984.1" y="435.6" width="1.8" height="6.0" fill-opacity="0.55"/><rect x="988.1" y="437.6" width="1.8" height="4.0" fill-opacity="0.65"/><rect x="992.2" y="435.6" width="1.8" height="6.0" fill-opacity="0.65"/><rect x="996.2" y="435.6" width="1.3" height="6.0" fill-opacity="0.55"/><rect x="1000.3" y="435.6" width="1.8" height="6.0" fill-opacity="0.55"/><rect x="1004.3" y="436.6" width="1.8" height="5.0" fill-opacity="0.65"/><rect x="1008.4" y="435.6" width="1.3" height="6.0" fill-opacity="0.55"/><rect x="1012.4" y="437.6" width="1.5" height="4.0" fill-opacity="0.75"/><rect x="1016.5" y="435.6" width="1.5" height="6.0" fill-opacity="0.65"/><rect x="1020.5" y="437.6" width="1.5" height="4.0" fill-opacity="0.75"/><rect x="1024.6" y="437.6" width="1.3" height="4.0" fill-opacity="0.75"/><rect x="1028.6" y="435.6" width="1.3" height="6.0" fill-opacity="0.55"/><rect x="1032.7" y="435.6" width="1.5" height="6.0" fill-opacity="0.75"/><rect x="1036.7" y="436.6" width="1.8" height="5.0" fill-opacity="0.55"/><rect x="1040.8" y="437.6" width="1.8" height="4.0" fill-opacity="0.90"/><rect x="1044.8" y="437.6" width="1.8" height="4.0" fill-opacity="0.65"/><rect x="1048.9" y="435.6" width="1.8" height="6.0" fill-opacity="0.65"/><rect x="1052.9" y="435.6" width="1.3" height="6.0" fill-opacity="0.90"/><rect x="1057.0" y="435.6" width="1.8" height="6.0" fill-opacity="0.55"/><rect x="1061.0" y="435.6" width="1.8" height="6.0" fill-opacity="0.65"/><rect x="1065.1" y="436.6" width="1.3" height="5.0" fill-opacity="0.90"/><rect x="1069.1" y="437.6" width="1.5" height="4.0" fill-opacity="0.65"/><rect x="1073.2" y="437.6" width="1.5" height="4.0" fill-opacity="0.90"/><rect x="1077.2" y="436.6" width="1.3" height="5.0" fill-opacity="0.75"/><rect x="1081.3" y="435.6" width="1.8" height="6.0" fill-opacity="0.65"/><rect x="1085.3" y="437.6" width="1.5" height="4.0" fill-opacity="0.55"/><rect x="1089.4" y="436.6" width="1.3" height="5.0" fill-opacity="0.75"/><rect x="1093.4" y="435.6" width="1.3" height="6.0" fill-opacity="0.55"/><rect x="1097.5" y="435.6" width="1.5" height="6.0" fill-opacity="0.90"/><rect x="1101.5" y="436.6" width="1.8" height="5.0" fill-opacity="0.65"/><rect x="1105.6" y="436.6" width="1.5" height="5.0" fill-opacity="0.65"/><rect x="1109.6" y="435.6" width="1.5" height="6.0" fill-opacity="0.75"/><rect x="1113.7" y="436.6" width="1.5" height="5.0" fill-opacity="0.55"/><rect x="1117.7" y="435.6" width="1.3" height="6.0" fill-opacity="0.75"/><rect x="1121.8" y="435.6" width="1.8" height="6.0" fill-opacity="0.55"/><rect x="1125.8" y="435.6" width="1.3" height="6.0" fill-opacity="0.65"/><rect x="1129.9" y="437.6" width="1.3" height="4.0" fill-opacity="0.75"/><rect x="1133.9" y="435.6" width="1.5" height="6.0" fill-opacity="0.90"/><rect x="1138.0" y="436.6" width="1.5" height="5.0" fill-opacity="0.65"/><rect x="1142.0" y="437.6" width="1.5" height="4.0" fill-opacity="0.90"/><rect x="1146.1" y="436.6" width="1.3" height="5.0" fill-opacity="0.65"/><rect x="1150.1" y="435.6" width="1.3" height="6.0" fill-opacity="0.65"/><rect x="730.0" y="431.0" width="1.5" height="10.0" fill-opacity="0.90"/><rect x="1169.0" y="432.0" width="1.5" height="9.0" fill-opacity="0.90"/><rect x="729.0" y="483.0" width="9.0" height="3.0"/><rect x="738.0" y="485.0" width="7.0" height="3.0"/><rect x="745.5" y="483.0" width="1.0" height="4.0"/><rect x="748.0" y="483.0" width="1.0" height="4.0"/><rect x="753.0" y="477.0" width="9.0" height="3.0"/><rect x="762.0" y="475.3" width="9.0" height="2.5"/><rect x="773.0" y="479.0" width="2.0" height="3.0"/><rect x="782.0" y="479.0" width="2.0" height="4.0"/><rect x="791.0" y="479.0" width="2.0" height="3.0"/><rect x="795.0" y="479.0" width="2.0" height="3.0"/><rect x="799.5" y="481.0" width="14.0" height="3.0"/><rect x="749.0" y="528.0" width="5.0" height="5.0" fill-opacity="0.85"/><rect x="777.0" y="527.0" width="5.0" height="3.0" fill-opacity="0.75"/><rect x="785.0" y="527.0" width="6.0" height="4.0" fill-opacity="0.75"/></g><g font-family="&quot;Liberation Sans&quot;, sans-serif" font-weight="bold" font-size="20" fill="#fff" stroke="#fff" stroke-width="0.4"><text x="38.5" y="24.60" textLength="99.5" lengthAdjust="spacingAndGlyphs">FngrBass</text><text x="38.5" y="73.32" textLength="94.0" lengthAdjust="spacingAndGlyphs">Ovrdrive</text><text x="38.5" y="122.04" textLength="87.0" lengthAdjust="spacingAndGlyphs">Clarinet</text><text x="38.5" y="170.76" textLength="100.5" lengthAdjust="spacingAndGlyphs">OohChoir</text><text x="38.5" y="219.48" textLength="104.5" lengthAdjust="spacingAndGlyphs">Ensmble1</text><text x="38.5" y="268.20" textLength="103.5" lengthAdjust="spacingAndGlyphs">SynBass1</text><text x="38.5" y="316.92" textLength="94.0" lengthAdjust="spacingAndGlyphs">Ovrdrive</text><text x="38.5" y="365.64" textLength="95.5" lengthAdjust="spacingAndGlyphs">CleanGtr</text><text x="38.5" y="414.36" textLength="113.5" lengthAdjust="spacingAndGlyphs">GM Drums</text><text x="38.5" y="463.08" textLength="88.0" lengthAdjust="spacingAndGlyphs">Distortd</text><text x="38.5" y="511.80" textLength="88.0" lengthAdjust="spacingAndGlyphs">Distortd</text></g><rect x="14" y="552" width="1" height="4.5" fill="#fff"/><rect x="262" y="552" width="1" height="4.5" fill="#fff"/><rect x="509" y="552" width="1" height="4.5" fill="#fff"/><rect x="757" y="552" width="1" height="4.5" fill="#fff"/><rect x="1004" y="552" width="1" height="4.5" fill="#fff"/><g font-family="&quot;Liberation Sans&quot;, sans-serif" font-size="14.2" fill="#fff"><text x="14.5" y="571.7" text-anchor="middle" textLength="7.0" lengthAdjust="spacingAndGlyphs">0</text><text x="261.5" y="571.7" text-anchor="middle" textLength="14.8" lengthAdjust="spacingAndGlyphs">50</text><text x="509.5" y="571.7" text-anchor="middle" textLength="24.2" lengthAdjust="spacingAndGlyphs">100</text><text x="757.5" y="571.7" text-anchor="middle" textLength="24.2" lengthAdjust="spacingAndGlyphs">150</text><text x="1004.5" y="571.7" text-anchor="middle" textLength="24.6" lengthAdjust="spacingAndGlyphs">200</text></g><g fill="#3b3b3b"><ellipse cx="522.5" cy="574.6" rx="19.6" ry="10"/><ellipse cx="570.8" cy="574.6" rx="19.6" ry="10"/><ellipse cx="619.0" cy="574.6" rx="19.6" ry="10"/><ellipse cx="667.0" cy="574.6" rx="19.6" ry="10"/></g><g fill="none" stroke="#fff" stroke-width="2.6" stroke-linejoin="miter"><path d="M516.6 568.6 V581.8 M516.6 569.6 L529.8 574.8 L516.6 580.2"/><path d="M562.5 569.4 L584.2 574.8 L562.5 580.3"/><path d="M674.3 568.4 V581.8 M674.3 569.4 L661 574.6 L674.3 580"/></g><rect x="609" y="570" width="20.7" height="10.8" fill="#fff"/><text x="537" y="591.8" font-family="&quot;Liberation Sans&quot;, sans-serif" font-size="14.2" fill="#fff" textLength="121" lengthAdjust="spacingAndGlyphs">Temps (secondes)</text></svg></body></html>
